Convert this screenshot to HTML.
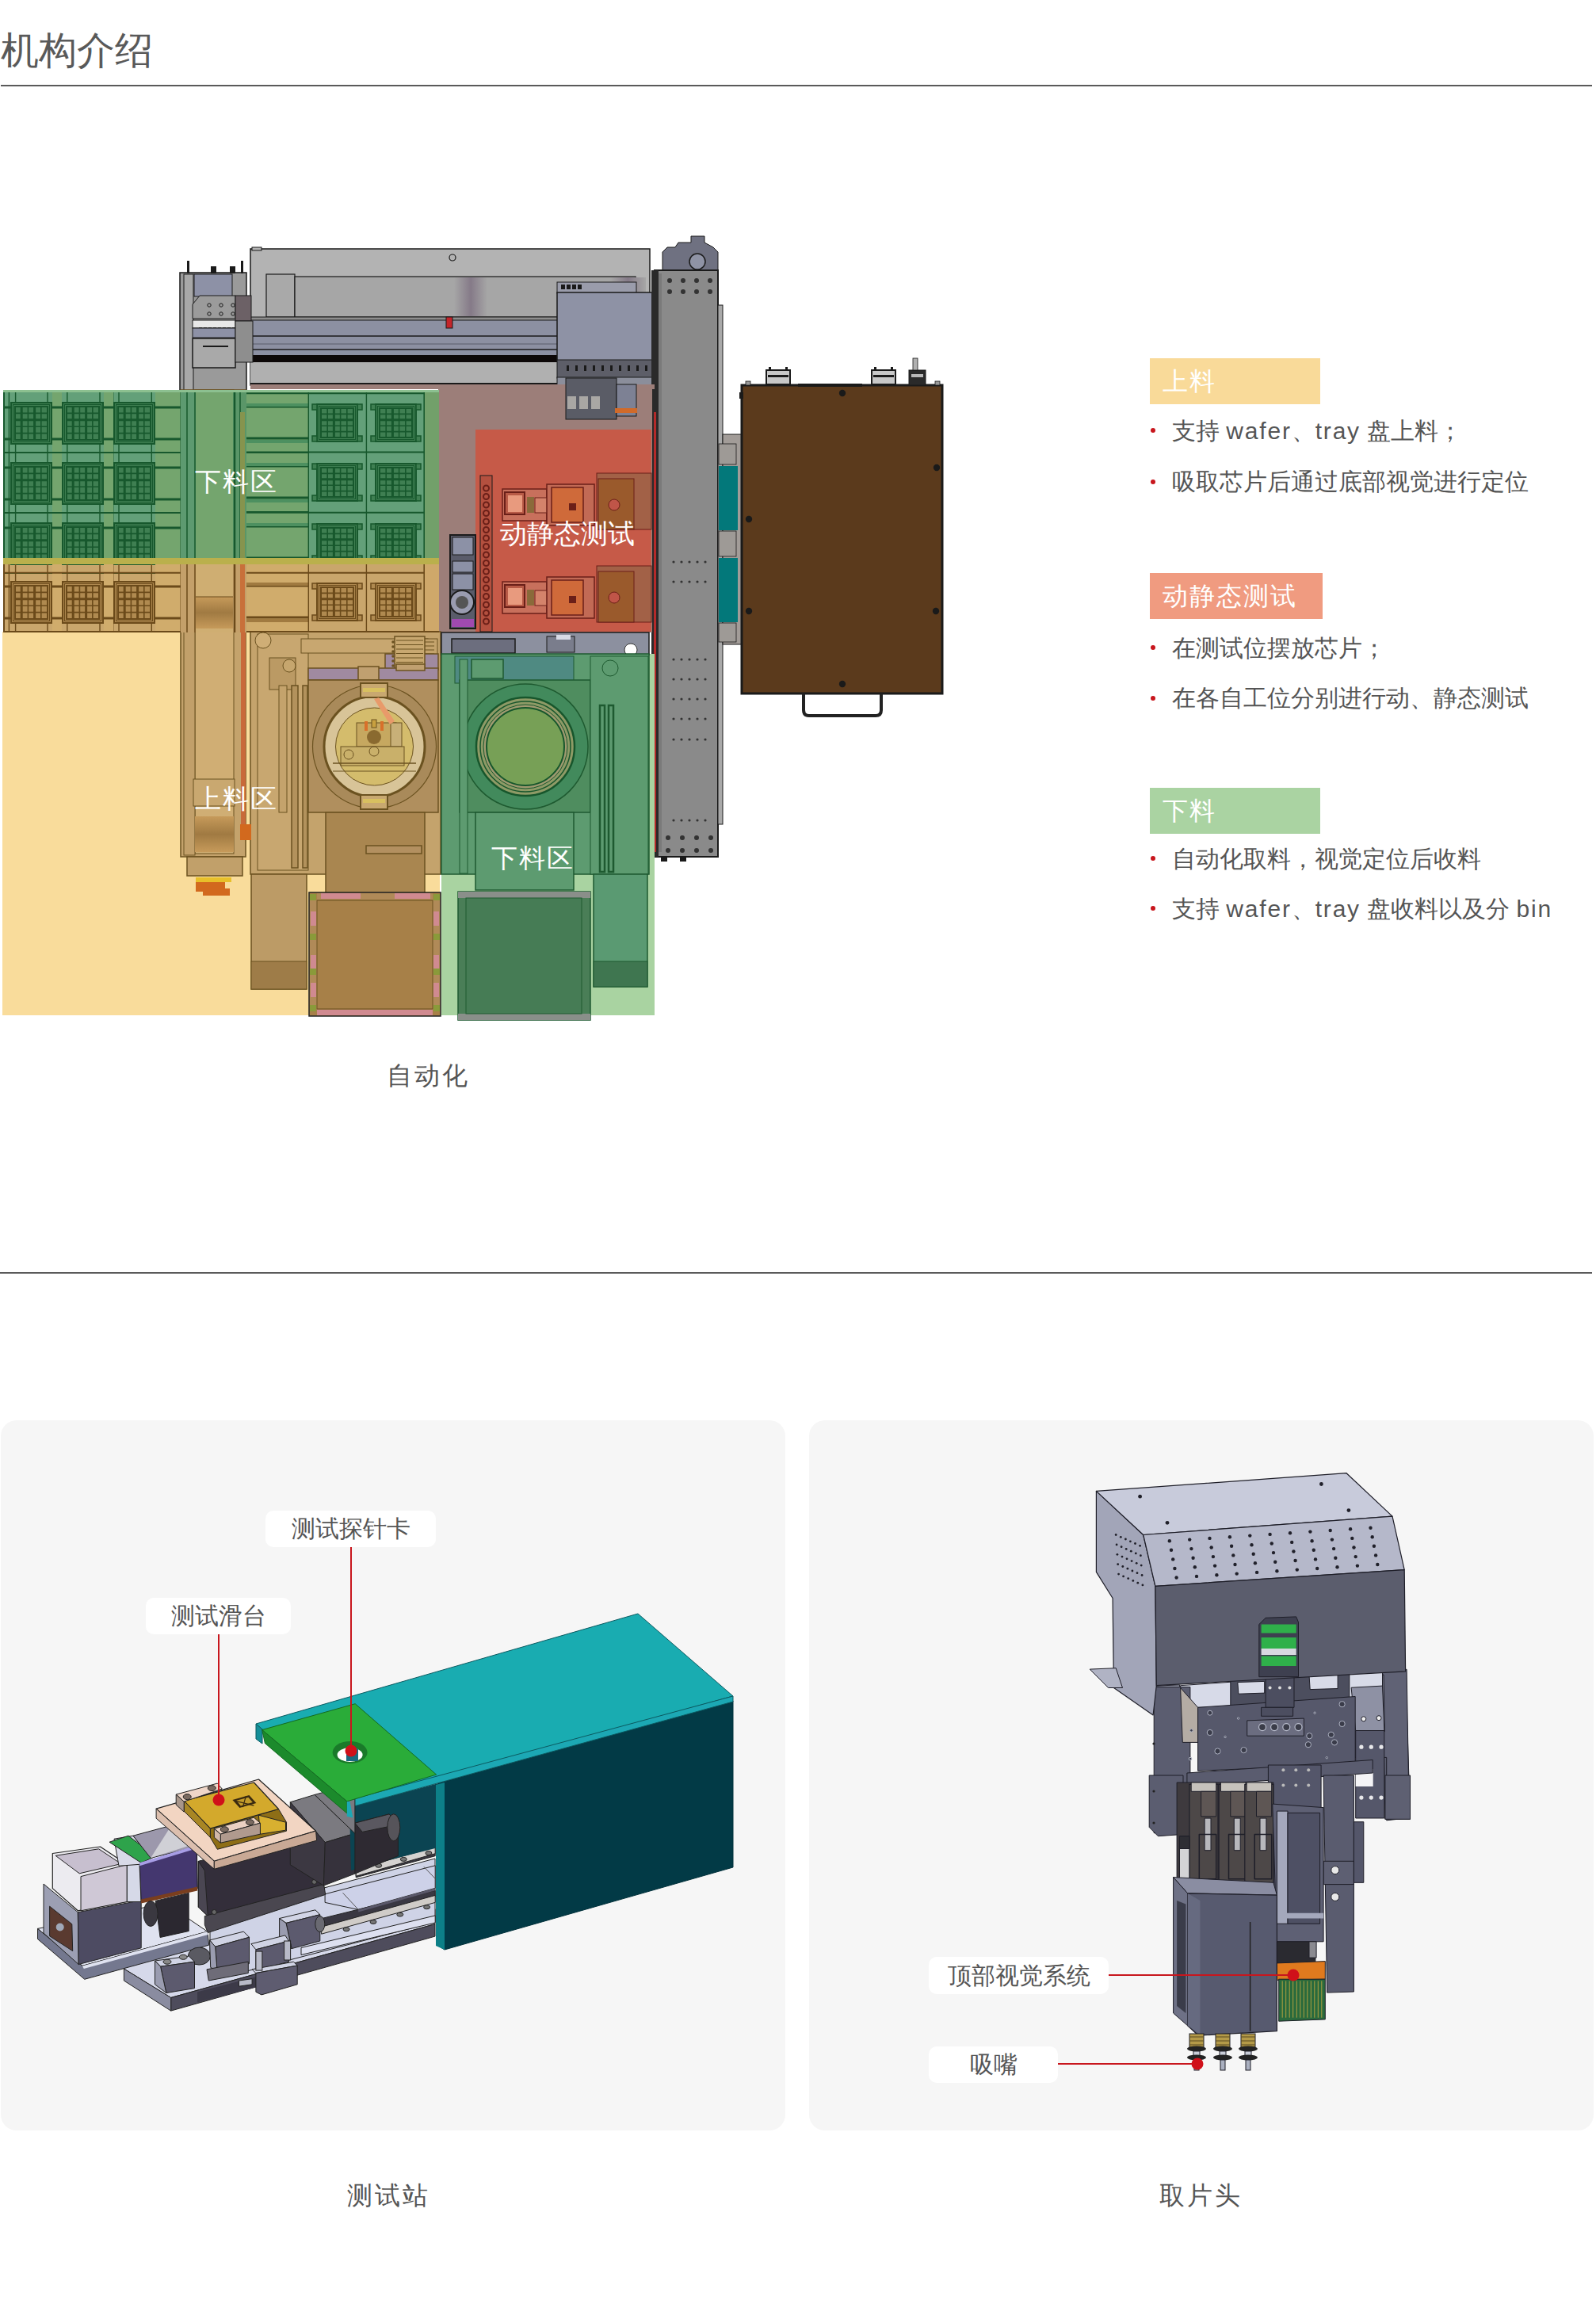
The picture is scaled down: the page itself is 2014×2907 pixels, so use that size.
<!DOCTYPE html>
<html><head><meta charset="utf-8">
<style>
html,body{margin:0;padding:0;background:#fff;}
body{width:2014px;height:2907px;position:relative;overflow:hidden;font-family:"Liberation Sans",sans-serif;color:#555;}
.a{position:absolute;white-space:nowrap;}
.hr{position:absolute;height:2px;background:#5a5a5a;}
.badge{position:absolute;left:1451px;width:215px;height:58px;color:#fff;font-size:32px;line-height:58px;padding-left:16px;box-sizing:border-box;letter-spacing:2px;}
.li{position:absolute;left:1479px;font-size:30px;line-height:40px;color:#555;}
.en{letter-spacing:1.8px;}
.dot{position:absolute;left:1452px;width:6px;height:6px;border-radius:50%;background:#c8161d;}
.card{position:absolute;top:1792px;height:896px;background:#f6f6f6;border-radius:20px;}
.lab{position:absolute;background:#fff;border-radius:10px;font-size:30px;color:#555;text-align:center;}
.cap{position:absolute;font-size:32px;color:#555;line-height:40px;letter-spacing:3px;}
svg{position:absolute;left:0;top:0;}
</style></head>
<body>
<div class="a" style="left:1px;top:34px;font-size:48px;line-height:60px;color:#595959;">机构介绍</div>
<div class="hr" style="left:1px;top:107px;width:2008px;"></div>

<!-- TOP CAD IMAGE -->
<svg id="top" width="1200" height="1300" viewBox="0 0 1200 1300">
<rect x="316" y="314" width="504" height="172" fill="#b3b3b3" stroke="#1a1a1a" stroke-width="1.5"/>
<rect x="318" y="312" width="12" height="4" fill="#b3b3b3" stroke="#1a1a1a" stroke-width="1"/>
<circle cx="571" cy="325" r="4" fill="none" stroke="#1a1a1a" stroke-width="1.2"/>
<rect x="336" y="346" width="36" height="54" fill="#a9a9a9" stroke="#1a1a1a" stroke-width="1.2"/>
<rect x="372" y="349" width="430" height="51" fill="#a6a6a6" stroke="#1a1a1a" stroke-width="1.2"/>
<defs><linearGradient id="cyl" x1="0" x2="1"><stop offset="0" stop-color="#a6a6a6"/><stop offset="0.5" stop-color="#857a88"/><stop offset="1" stop-color="#a6a6a6"/></linearGradient></defs>
<rect x="573" y="350" width="42" height="49" fill="url(#cyl)"/>
<rect x="770" y="350" width="45" height="49" fill="url(#cyl)"/>
<rect x="316" y="400" width="390" height="5" fill="#8d8d8d" stroke="#1a1a1a" stroke-width="1"/>
<rect x="316" y="404" width="390" height="46" fill="#8c90a2" stroke="#1a1a1a" stroke-width="1"/>
<line x1="316" y1="424" x2="706" y2="424" stroke="#1a1a1a" stroke-width="1.5"/>
<line x1="316" y1="434" x2="706" y2="434" stroke="#5a5c6a" stroke-width="1"/>
<line x1="316" y1="441" x2="706" y2="441" stroke="#1a1a1a" stroke-width="1.5"/>
<rect x="316" y="448" width="390" height="9" fill="#0d0808"/>
<rect x="316" y="457" width="390" height="27" fill="#b0b0b0"/>
<line x1="316" y1="484" x2="706" y2="484" stroke="#1a1a1a" stroke-width="2"/>
<rect x="563" y="400" width="8" height="14" fill="#c4242a" stroke="#1a1a1a" stroke-width="1"/>
<rect x="227" y="344" width="84" height="150" fill="#9a9a9a" stroke="#1a1a1a" stroke-width="1.5"/>
<rect x="232" y="346" width="12" height="148" fill="#a8a8a8" stroke="#1a1a1a" stroke-width="1"/>
<rect x="245" y="346" width="48" height="28" fill="#8d91a6" stroke="#1a1a1a" stroke-width="1"/>
<rect x="236" y="329" width="3" height="16" fill="#1a1a1a"/>
<rect x="304" y="329" width="3" height="16" fill="#1a1a1a"/>
<rect x="266" y="336" width="7" height="9" fill="#1a1a1a"/>
<rect x="290" y="336" width="7" height="9" fill="#1a1a1a"/>
<polygon points="243,384 252,373 297,373 297,402 243,402" fill="#9b9b9b" stroke="#1a1a1a" stroke-width="1"/>
<circle cx="264" cy="385" r="2.2" fill="none" stroke="#1a1a1a" stroke-width="1"/>
<circle cx="264" cy="396" r="2.2" fill="none" stroke="#1a1a1a" stroke-width="1"/>
<circle cx="279" cy="385" r="2.2" fill="none" stroke="#1a1a1a" stroke-width="1"/>
<circle cx="279" cy="396" r="2.2" fill="none" stroke="#1a1a1a" stroke-width="1"/>
<circle cx="294" cy="385" r="2.2" fill="none" stroke="#1a1a1a" stroke-width="1"/>
<circle cx="294" cy="396" r="2.2" fill="none" stroke="#1a1a1a" stroke-width="1"/>
<rect x="243" y="404" width="54" height="10" fill="#e8e8e8" stroke="#1a1a1a" stroke-width="1"/>
<rect x="251" y="413" width="4" height="11" fill="#2a2a2a"/>
<rect x="257" y="413" width="4" height="11" fill="#2a2a2a"/>
<rect x="263" y="413" width="4" height="11" fill="#2a2a2a"/>
<rect x="269" y="413" width="4" height="11" fill="#2a2a2a"/>
<rect x="275" y="413" width="4" height="11" fill="#2a2a2a"/>
<rect x="281" y="413" width="4" height="11" fill="#2a2a2a"/>
<rect x="287" y="413" width="4" height="11" fill="#2a2a2a"/>
<rect x="293" y="413" width="4" height="11" fill="#2a2a2a"/>
<rect x="243" y="414" width="54" height="12" fill="#8d91a6" stroke="#1a1a1a" stroke-width="1"/>
<rect x="243" y="427" width="54" height="37" fill="#a9a9a9" stroke="#1a1a1a" stroke-width="1.5"/>
<line x1="256" y1="437" x2="288" y2="437" stroke="#1a1a1a" stroke-width="2"/>
<rect x="297" y="373" width="20" height="32" fill="#6c6166" stroke="#1a1a1a" stroke-width="1"/>
<rect x="297" y="405" width="22" height="52" fill="#8e8e8e" stroke="#1a1a1a" stroke-width="1"/>
<rect x="703" y="356" width="100" height="14" fill="#9a9cab" stroke="#1a1a1a" stroke-width="1"/>
<rect x="708" y="359" width="5" height="6" fill="#1a1a1a"/>
<rect x="715" y="359" width="5" height="6" fill="#1a1a1a"/>
<rect x="722" y="359" width="5" height="6" fill="#1a1a1a"/>
<rect x="729" y="359" width="5" height="6" fill="#1a1a1a"/>
<rect x="703" y="369" width="126" height="86" fill="#8e92a5" stroke="#1a1a1a" stroke-width="1.5"/>
<rect x="703" y="454" width="126" height="23" fill="#5d5e68" stroke="#1a1a1a" stroke-width="1"/>
<rect x="715" y="461" width="3" height="7" fill="#1a1a1a"/>
<rect x="726" y="461" width="3" height="7" fill="#1a1a1a"/>
<rect x="737" y="461" width="3" height="7" fill="#1a1a1a"/>
<rect x="748" y="461" width="3" height="7" fill="#1a1a1a"/>
<rect x="759" y="461" width="3" height="7" fill="#1a1a1a"/>
<rect x="770" y="461" width="3" height="7" fill="#1a1a1a"/>
<rect x="781" y="461" width="3" height="7" fill="#1a1a1a"/>
<rect x="792" y="461" width="3" height="7" fill="#1a1a1a"/>
<rect x="803" y="461" width="3" height="7" fill="#1a1a1a"/>
<rect x="814" y="461" width="3" height="7" fill="#1a1a1a"/>
<rect x="703" y="476" width="126" height="10" fill="#8b8e9b" stroke="#1a1a1a" stroke-width="1"/>
<polygon points="836,342 836,318 842,312 852,312 856,306 872,306 872,298 889,298 889,306 900,312 906,318 906,342" fill="#6f7181" stroke="#1a1a1a" stroke-width="1"/>
<circle cx="880" cy="330" r="10" fill="#8f93a5" stroke="#1a1a1a" stroke-width="1.5"/>
<rect x="826" y="341" width="80" height="740" fill="#8a8a8a" stroke="#1a1a1a" stroke-width="2"/>
<rect x="830" y="345" width="5" height="730" fill="#7a7a7a"/>
<rect x="906" y="385" width="6" height="655" fill="#a9a9a9" stroke="#1a1a1a" stroke-width="1"/>
<rect x="822" y="341" width="9" height="740" fill="#2a2a2a"/>
<rect x="825" y="520" width="3" height="555" fill="#b42a2a"/>
<circle cx="845" cy="354" r="3" fill="#333"/>
<circle cx="862" cy="354" r="3" fill="#333"/>
<circle cx="879" cy="354" r="3" fill="#333"/>
<circle cx="896" cy="354" r="3" fill="#333"/>
<circle cx="845" cy="368" r="3" fill="#333"/>
<circle cx="862" cy="368" r="3" fill="#333"/>
<circle cx="879" cy="368" r="3" fill="#333"/>
<circle cx="896" cy="368" r="3" fill="#333"/>
<circle cx="843" cy="1057" r="3" fill="#333"/>
<circle cx="861" cy="1057" r="3" fill="#333"/>
<circle cx="879" cy="1057" r="3" fill="#333"/>
<circle cx="897" cy="1057" r="3" fill="#333"/>
<circle cx="843" cy="1073" r="3" fill="#333"/>
<circle cx="861" cy="1073" r="3" fill="#333"/>
<circle cx="879" cy="1073" r="3" fill="#333"/>
<circle cx="897" cy="1073" r="3" fill="#333"/>
<circle cx="850" cy="709" r="1.6" fill="#333"/>
<circle cx="860" cy="709" r="1.6" fill="#333"/>
<circle cx="870" cy="709" r="1.6" fill="#333"/>
<circle cx="880" cy="709" r="1.6" fill="#333"/>
<circle cx="890" cy="709" r="1.6" fill="#333"/>
<circle cx="850" cy="734" r="1.6" fill="#333"/>
<circle cx="860" cy="734" r="1.6" fill="#333"/>
<circle cx="870" cy="734" r="1.6" fill="#333"/>
<circle cx="880" cy="734" r="1.6" fill="#333"/>
<circle cx="890" cy="734" r="1.6" fill="#333"/>
<circle cx="850" cy="832" r="1.6" fill="#333"/>
<circle cx="860" cy="832" r="1.6" fill="#333"/>
<circle cx="870" cy="832" r="1.6" fill="#333"/>
<circle cx="880" cy="832" r="1.6" fill="#333"/>
<circle cx="890" cy="832" r="1.6" fill="#333"/>
<circle cx="850" cy="857" r="1.6" fill="#333"/>
<circle cx="860" cy="857" r="1.6" fill="#333"/>
<circle cx="870" cy="857" r="1.6" fill="#333"/>
<circle cx="880" cy="857" r="1.6" fill="#333"/>
<circle cx="890" cy="857" r="1.6" fill="#333"/>
<circle cx="850" cy="882" r="1.6" fill="#333"/>
<circle cx="860" cy="882" r="1.6" fill="#333"/>
<circle cx="870" cy="882" r="1.6" fill="#333"/>
<circle cx="880" cy="882" r="1.6" fill="#333"/>
<circle cx="890" cy="882" r="1.6" fill="#333"/>
<circle cx="850" cy="907" r="1.6" fill="#333"/>
<circle cx="860" cy="907" r="1.6" fill="#333"/>
<circle cx="870" cy="907" r="1.6" fill="#333"/>
<circle cx="880" cy="907" r="1.6" fill="#333"/>
<circle cx="890" cy="907" r="1.6" fill="#333"/>
<circle cx="850" cy="933" r="1.6" fill="#333"/>
<circle cx="860" cy="933" r="1.6" fill="#333"/>
<circle cx="870" cy="933" r="1.6" fill="#333"/>
<circle cx="880" cy="933" r="1.6" fill="#333"/>
<circle cx="890" cy="933" r="1.6" fill="#333"/>
<circle cx="850" cy="1035" r="1.6" fill="#333"/>
<circle cx="860" cy="1035" r="1.6" fill="#333"/>
<circle cx="870" cy="1035" r="1.6" fill="#333"/>
<circle cx="880" cy="1035" r="1.6" fill="#333"/>
<circle cx="890" cy="1035" r="1.6" fill="#333"/>
<rect x="834" y="1081" width="8" height="6" fill="#1a1a1a"/>
<rect x="858" y="1081" width="8" height="6" fill="#1a1a1a"/>
<rect x="912" y="548" width="24" height="265" fill="#a29c98" stroke="#1a1a1a" stroke-width="1"/>
<rect x="907" y="588" width="24" height="81" fill="#03787a"/>
<rect x="907" y="704" width="24" height="81" fill="#03787a"/>
<rect x="907" y="560" width="22" height="26" fill="#9e9a96" stroke="#1a1a1a" stroke-width="0.8"/>
<rect x="907" y="670" width="22" height="32" fill="#9e9a96" stroke="#1a1a1a" stroke-width="0.8"/>
<rect x="907" y="786" width="22" height="24" fill="#9e9a96" stroke="#1a1a1a" stroke-width="0.8"/>
<rect x="936" y="486" width="253" height="389" fill="#5b3a1c" stroke="#1a1a1a" stroke-width="3"/>
<rect x="970" y="463" width="3" height="23" fill="#1a1a1a"/>
<rect x="991" y="463" width="3" height="23" fill="#1a1a1a"/>
<rect x="967" y="467" width="30" height="18" fill="#c8c8c8" stroke="#1a1a1a" stroke-width="2"/>
<rect x="969" y="473" width="26" height="3" fill="#1a1a1a"/>
<rect x="1103" y="463" width="3" height="23" fill="#1a1a1a"/>
<rect x="1124" y="463" width="3" height="23" fill="#1a1a1a"/>
<rect x="1100" y="467" width="30" height="18" fill="#c8c8c8" stroke="#1a1a1a" stroke-width="2"/>
<rect x="1102" y="473" width="26" height="3" fill="#1a1a1a"/>
<rect x="1147" y="467" width="21" height="19" fill="#2a2a2a" stroke="#1a1a1a" stroke-width="1"/>
<rect x="1150" y="472" width="15" height="4" fill="#b8b8b8"/>
<rect x="1152" y="452" width="6" height="15" fill="#b0b0b0" stroke="#1a1a1a" stroke-width="0.8"/>
<rect x="1007" y="484" width="81" height="4" fill="#1a1a1a"/>
<rect x="941" y="481" width="6" height="5" fill="#999" stroke="#1a1a1a" stroke-width="0.8"/>
<rect x="1180" y="481" width="6" height="5" fill="#999" stroke="#1a1a1a" stroke-width="0.8"/>
<rect x="933" y="495" width="5" height="8" fill="#1a1a1a"/>
<circle cx="1063" cy="496" r="4.2" fill="#1a1a1a"/>
<circle cx="945" cy="655" r="4.2" fill="#1a1a1a"/>
<circle cx="945" cy="771" r="4.2" fill="#1a1a1a"/>
<circle cx="1182" cy="590" r="4.2" fill="#1a1a1a"/>
<circle cx="1181" cy="771" r="4.2" fill="#1a1a1a"/>
<circle cx="1063" cy="863" r="4.2" fill="#1a1a1a"/>
<path d="M1014,875 V896 Q1014,903 1021,903 H1105 Q1112,903 1112,896 V875" fill="none" stroke="#222" stroke-width="4"/>
<rect x="316" y="485" width="510" height="6" fill="#9c7e79"/>
<rect x="553" y="485" width="270" height="313" fill="#9c7e79"/>
<rect x="714" y="477" width="64" height="52" fill="#5a5c66" stroke="#1a1a1a" stroke-width="1"/>
<rect x="716" y="500" width="11" height="16" fill="#a9a7a4"/>
<rect x="731" y="500" width="11" height="16" fill="#a9a7a4"/>
<rect x="746" y="500" width="11" height="16" fill="#a9a7a4"/>
<rect x="778" y="485" width="25" height="40" fill="#7d8194" stroke="#1a1a1a" stroke-width="1"/>
<rect x="776" y="515" width="28" height="6" fill="#d06a2a"/>
<rect x="600" y="542" width="222" height="255" fill="#c65a48"/>
<rect x="606" y="600" width="15" height="197" fill="#b4503f" stroke="#1a1a1a" stroke-width="1"/>
<circle cx="613.5" cy="616.0" r="3.5" fill="none" stroke="#6b1f18" stroke-width="2"/>
<circle cx="613.5" cy="626.5" r="3.5" fill="none" stroke="#6b1f18" stroke-width="2"/>
<circle cx="613.5" cy="637.0" r="3.5" fill="none" stroke="#6b1f18" stroke-width="2"/>
<circle cx="613.5" cy="647.5" r="3.5" fill="none" stroke="#6b1f18" stroke-width="2"/>
<circle cx="613.5" cy="658.0" r="3.5" fill="none" stroke="#6b1f18" stroke-width="2"/>
<circle cx="613.5" cy="668.5" r="3.5" fill="none" stroke="#6b1f18" stroke-width="2"/>
<circle cx="613.5" cy="679.0" r="3.5" fill="none" stroke="#6b1f18" stroke-width="2"/>
<circle cx="613.5" cy="689.5" r="3.5" fill="none" stroke="#6b1f18" stroke-width="2"/>
<circle cx="613.5" cy="700.0" r="3.5" fill="none" stroke="#6b1f18" stroke-width="2"/>
<circle cx="613.5" cy="710.5" r="3.5" fill="none" stroke="#6b1f18" stroke-width="2"/>
<circle cx="613.5" cy="721.0" r="3.5" fill="none" stroke="#6b1f18" stroke-width="2"/>
<circle cx="613.5" cy="731.5" r="3.5" fill="none" stroke="#6b1f18" stroke-width="2"/>
<circle cx="613.5" cy="742.0" r="3.5" fill="none" stroke="#6b1f18" stroke-width="2"/>
<circle cx="613.5" cy="752.5" r="3.5" fill="none" stroke="#6b1f18" stroke-width="2"/>
<circle cx="613.5" cy="763.0" r="3.5" fill="none" stroke="#6b1f18" stroke-width="2"/>
<circle cx="613.5" cy="773.5" r="3.5" fill="none" stroke="#6b1f18" stroke-width="2"/>
<circle cx="613.5" cy="784.0" r="3.5" fill="none" stroke="#6b1f18" stroke-width="2"/>
<rect x="634" y="617" width="56" height="40" fill="#c8705c" stroke="#6b1f18" stroke-width="1.5"/>
<rect x="637" y="621" width="25" height="28" fill="#b85a46" stroke="#6b1f18" stroke-width="2"/>
<rect x="641" y="625" width="18" height="21" fill="#e89a7e"/>
<rect x="665" y="627" width="9" height="20" fill="#8a6a3a"/>
<rect x="675" y="628" width="16" height="19" fill="#d4836b" stroke="#6b1f18" stroke-width="1"/>
<rect x="690" y="611" width="60" height="52" fill="#c26a55" stroke="#6b1f18" stroke-width="1.5"/>
<rect x="696" y="615" width="40" height="44" fill="#cf6a3a" stroke="#6b1f18" stroke-width="1.5"/>
<rect x="718" y="635" width="9" height="9" fill="#6b1f18"/>
<rect x="753" y="597" width="69" height="71" fill="#a26147" stroke="#6b1f18" stroke-width="1"/>
<rect x="755" y="604" width="45" height="64" fill="#9a5a2c" stroke="#6b1f18" stroke-width="1"/>
<circle cx="775" cy="637" r="7" fill="#c05548" stroke="#6b1f18" stroke-width="1"/>
<rect x="634" y="734" width="56" height="40" fill="#c8705c" stroke="#6b1f18" stroke-width="1.5"/>
<rect x="637" y="738" width="25" height="28" fill="#b85a46" stroke="#6b1f18" stroke-width="2"/>
<rect x="641" y="742" width="18" height="21" fill="#e89a7e"/>
<rect x="665" y="744" width="9" height="20" fill="#8a6a3a"/>
<rect x="675" y="745" width="16" height="19" fill="#d4836b" stroke="#6b1f18" stroke-width="1"/>
<rect x="690" y="728" width="60" height="52" fill="#c26a55" stroke="#6b1f18" stroke-width="1.5"/>
<rect x="696" y="732" width="40" height="44" fill="#cf6a3a" stroke="#6b1f18" stroke-width="1.5"/>
<rect x="718" y="752" width="9" height="9" fill="#6b1f18"/>
<rect x="753" y="714" width="69" height="71" fill="#a26147" stroke="#6b1f18" stroke-width="1"/>
<rect x="755" y="721" width="45" height="64" fill="#9a5a2c" stroke="#6b1f18" stroke-width="1"/>
<circle cx="775" cy="754" r="7" fill="#c05548" stroke="#6b1f18" stroke-width="1"/>
<rect x="568" y="675" width="32" height="118" fill="#5a5c6a" stroke="#1a1a1a" stroke-width="2"/>
<rect x="571" y="678" width="26" height="22" fill="#8c91a6" stroke="#1a1a1a" stroke-width="1"/>
<rect x="571" y="708" width="26" height="14" fill="#8c91a6" stroke="#1a1a1a" stroke-width="1"/>
<rect x="571" y="724" width="26" height="20" fill="#8c91a6" stroke="#1a1a1a" stroke-width="1"/>
<circle cx="583" cy="760" r="15" fill="#9a9cb0" stroke="#1a1a1a" stroke-width="2"/>
<circle cx="583" cy="760" r="8" fill="#555"/>
<rect x="570" y="781" width="28" height="10" fill="#a04ab0"/>
<rect x="3" y="797" width="552" height="484" fill="#f9dc9b"/>
<rect x="316" y="797" width="240" height="306" fill="#c4a36c" stroke="#6b5220" stroke-width="1.5"/>
<rect x="325" y="800" width="64" height="298" fill="#c8a770" stroke="#6b5220" stroke-width="1"/>
<circle cx="332" cy="808" r="10" fill="#cfae76" stroke="#6b5220" stroke-width="1"/>
<rect x="340" y="830" width="33" height="40" fill="#bb9a64" stroke="#6b5220" stroke-width="1"/>
<circle cx="365" cy="840" r="8" fill="#c6a66e" stroke="#6b5220" stroke-width="1"/>
<rect x="352" y="865" width="10" height="160" fill="#c4a36c" stroke="#6b5220" stroke-width="1"/>
<rect x="368" y="865" width="8" height="230" fill="#b3925c" stroke="#6b5220" stroke-width="1.5"/>
<rect x="382" y="865" width="6" height="230" fill="#b3925c" stroke="#6b5220" stroke-width="1.5"/>
<rect x="380" y="806" width="160" height="18" fill="#c8a770" stroke="#6b5220" stroke-width="1"/>
<rect x="500" y="806" width="52" height="30" fill="#c4a36c" stroke="#6b5220" stroke-width="1"/>
<line x1="502" y1="810" x2="548" y2="810" stroke="#6b5220" stroke-width="1"/>
<line x1="502" y1="815" x2="548" y2="815" stroke="#6b5220" stroke-width="1"/>
<line x1="502" y1="820" x2="548" y2="820" stroke="#6b5220" stroke-width="1"/>
<line x1="502" y1="825" x2="548" y2="825" stroke="#6b5220" stroke-width="1"/>
<line x1="502" y1="830" x2="548" y2="830" stroke="#6b5220" stroke-width="1"/>
<rect x="486" y="825" width="67" height="20" fill="#a08aa0" stroke="#6b5220" stroke-width="1.5"/>
<rect x="498" y="803" width="38" height="44" fill="#c8a870" stroke="#6b5220" stroke-width="1.5"/>
<line x1="500" y1="808.0" x2="534" y2="808.0" stroke="#6b5220" stroke-width="1.2"/>
<line x1="500" y1="813.5" x2="534" y2="813.5" stroke="#6b5220" stroke-width="1.2"/>
<line x1="500" y1="819.0" x2="534" y2="819.0" stroke="#6b5220" stroke-width="1.2"/>
<line x1="500" y1="824.5" x2="534" y2="824.5" stroke="#6b5220" stroke-width="1.2"/>
<line x1="500" y1="830.0" x2="534" y2="830.0" stroke="#6b5220" stroke-width="1.2"/>
<line x1="500" y1="835.5" x2="534" y2="835.5" stroke="#6b5220" stroke-width="1.2"/>
<line x1="500" y1="841.0" x2="534" y2="841.0" stroke="#6b5220" stroke-width="1.2"/>
<circle cx="496" cy="810" r="1.8" fill="#6b5220"/>
<circle cx="496" cy="816" r="1.8" fill="#6b5220"/>
<circle cx="496" cy="822" r="1.8" fill="#6b5220"/>
<circle cx="496" cy="828" r="1.8" fill="#6b5220"/>
<circle cx="496" cy="834" r="1.8" fill="#6b5220"/>
<circle cx="496" cy="840" r="1.8" fill="#6b5220"/>
<rect x="389" y="843" width="164" height="15" fill="#a08aa0" stroke="#6b5220" stroke-width="1.5"/>
<rect x="452" y="841" width="26" height="17" fill="#c0a070" stroke="#6b5220" stroke-width="1.5"/>
<rect x="500" y="838" width="36" height="8" fill="#c0a070" stroke="#6b5220" stroke-width="1.5"/>
<rect x="389" y="858" width="164" height="167" fill="#b08f5e" stroke="#6b5220" stroke-width="1.5"/>
<circle cx="472.5" cy="942" r="78" fill="#a98a5a" stroke="#6b5220" stroke-width="1.2"/>
<circle cx="472.5" cy="942" r="63.5" fill="#d8c498" stroke="#6b5220" stroke-width="3"/>
<circle cx="472.5" cy="942" r="49" fill="#d4bc6c" stroke="#6b5220" stroke-width="1"/>
<rect x="455" y="862" width="34" height="18" fill="#c8a870" stroke="#6b5220" stroke-width="2"/>
<rect x="458" y="868" width="28" height="5" fill="#d8c060"/>
<rect x="455" y="1003" width="34" height="18" fill="#c8a870" stroke="#6b5220" stroke-width="2"/>
<rect x="458" y="1008" width="28" height="5" fill="#d8c060"/>
<rect x="450" y="912" width="50" height="30" fill="#c6a860" stroke="#6b5220" stroke-width="1"/>
<circle cx="472" cy="930" r="9" fill="#8a6a30"/>
<rect x="460" y="910" width="4" height="12" fill="#d8702a"/>
<rect x="480" y="910" width="4" height="12" fill="#d8702a"/>
<rect x="469" y="908" width="6" height="10" fill="#c8a040" stroke="#6b5220" stroke-width="1"/>
<rect x="493" y="912" width="14" height="30" fill="#c8b078" stroke="#6b5220" stroke-width="1"/>
<rect x="430" y="942" width="80" height="24" fill="#c9b06a" stroke="#6b5220" stroke-width="1"/>
<circle cx="440" cy="952" r="6" fill="none" stroke="#6b5220" stroke-width="1"/>
<circle cx="472" cy="948" r="6" fill="none" stroke="#6b5220" stroke-width="1"/>
<line x1="420" y1="963" x2="525" y2="963" stroke="#6b5220" stroke-width="1.5"/>
<line x1="420" y1="973" x2="525" y2="973" stroke="#6b5220" stroke-width="1.2"/>
<polygon points="472,882 478,880 498,910 492,914" fill="#e89a6a"/>
<rect x="411" y="1025" width="125" height="105" fill="#a98650" stroke="#6b5220" stroke-width="1.5"/>
<rect x="462" y="1067" width="70" height="10" fill="#b39060" stroke="#6b5220" stroke-width="1.5"/>
<rect x="317" y="1103" width="70" height="145" fill="#bc9b66" stroke="#6b5220" stroke-width="1.5"/>
<rect x="317" y="1213" width="70" height="35" fill="#9e7c48" stroke="#6b5220" stroke-width="1"/>
<rect x="390" y="1126" width="166" height="156" fill="#a78048" stroke="#222" stroke-width="1.5"/>
<rect x="400" y="1127" width="146" height="8" fill="#b08a58"/>
<rect x="405" y="1127" width="50" height="7" fill="#d08a90"/>
<rect x="498" y="1127" width="45" height="7" fill="#d08a90"/>
<rect x="400" y="1274" width="146" height="7" fill="#d08a90"/>
<rect x="391" y="1135" width="9" height="139" fill="#b08a58"/>
<rect x="546" y="1135" width="9" height="139" fill="#b08a58"/>
<rect x="392" y="1150" width="7" height="18" fill="#d08a90"/>
<rect x="547" y="1150" width="7" height="18" fill="#d08a90"/>
<rect x="392" y="1205" width="7" height="18" fill="#d08a90"/>
<rect x="547" y="1205" width="7" height="18" fill="#d08a90"/>
<rect x="392" y="1240" width="7" height="18" fill="#d08a90"/>
<rect x="547" y="1240" width="7" height="18" fill="#d08a90"/>
<rect x="391" y="1128" width="8" height="8" fill="#8a9a3a"/>
<rect x="547" y="1128" width="8" height="8" fill="#8a9a3a"/>
<rect x="391" y="1178" width="8" height="8" fill="#8a9a3a"/>
<rect x="547" y="1178" width="8" height="8" fill="#8a9a3a"/>
<rect x="391" y="1222" width="8" height="8" fill="#8a9a3a"/>
<rect x="547" y="1222" width="8" height="8" fill="#8a9a3a"/>
<rect x="391" y="1268" width="8" height="8" fill="#8a9a3a"/>
<rect x="547" y="1268" width="8" height="8" fill="#8a9a3a"/>
<rect x="400" y="1136" width="146" height="137" fill="#a78048" stroke="#6b5220" stroke-width="1"/>
<rect x="228" y="492" width="82" height="589" fill="#c4a36c" stroke="#6b5220" stroke-width="1.5"/>
<rect x="246" y="492" width="49" height="585" fill="#d0ae74" stroke="#6b5220" stroke-width="1"/>
<rect x="232" y="499" width="14" height="580" fill="#c2a06a" stroke="#6b5220" stroke-width="1"/>
<rect x="244" y="983" width="52" height="34" fill="#c9a870" stroke="#6b5220" stroke-width="1"/>
<defs><linearGradient id="armg" x1="0" x2="0" y1="0" y2="1"><stop offset="0" stop-color="#c69a5a"/><stop offset="0.5" stop-color="#a07a42"/><stop offset="1" stop-color="#c69a5a"/></linearGradient></defs>
<rect x="246" y="1030" width="49" height="45" fill="url(#armg)"/>
<rect x="236" y="1081" width="70" height="24" fill="#c1a06a" stroke="#6b5220" stroke-width="1.5"/>
<rect x="247" y="1107" width="45" height="6" fill="#e8c02a"/>
<rect x="247" y="1113" width="37" height="12" fill="#d2691e"/>
<rect x="256" y="1121" width="34" height="9" fill="#d2691e"/>
<rect x="304" y="520" width="6" height="538" fill="#c86a3a"/>
<rect x="303" y="1040" width="14" height="20" fill="#d2691e"/>
<rect x="4" y="492" width="550" height="212" fill="#63a079"/>
<rect x="4" y="712" width="550" height="86" fill="#c9a66c"/>
<line x1="11.4" y1="492" x2="11.4" y2="704" stroke="#17582d" stroke-width="1.4"/>
<line x1="19.6" y1="492" x2="19.6" y2="704" stroke="#17582d" stroke-width="1.4"/>
<line x1="60" y1="492" x2="60" y2="704" stroke="#17582d" stroke-width="1.4"/>
<line x1="68.2" y1="492" x2="68.2" y2="704" stroke="#17582d" stroke-width="1.4"/>
<line x1="76.5" y1="492" x2="76.5" y2="704" stroke="#17582d" stroke-width="1.4"/>
<line x1="84.8" y1="492" x2="84.8" y2="704" stroke="#17582d" stroke-width="1.4"/>
<line x1="126" y1="492" x2="126" y2="704" stroke="#17582d" stroke-width="1.4"/>
<line x1="133.4" y1="492" x2="133.4" y2="704" stroke="#17582d" stroke-width="1.4"/>
<line x1="142.7" y1="492" x2="142.7" y2="704" stroke="#17582d" stroke-width="1.4"/>
<line x1="150" y1="492" x2="150" y2="704" stroke="#17582d" stroke-width="1.4"/>
<line x1="191.3" y1="492" x2="191.3" y2="704" stroke="#17582d" stroke-width="1.4"/>
<line x1="198.5" y1="492" x2="198.5" y2="704" stroke="#17582d" stroke-width="1.4"/>
<rect x="4" y="492" width="2" height="212" fill="#17582d"/>
<rect x="66" y="492" width="12" height="212" fill="#74a56e"/>
<rect x="131" y="492" width="12" height="212" fill="#74a56e"/>
<rect x="196" y="492" width="32" height="212" fill="#74a56e"/>
<line x1="4" y1="514" x2="229" y2="514" stroke="#17582d" stroke-width="3"/>
<line x1="4" y1="554" x2="229" y2="554" stroke="#17582d" stroke-width="3"/>
<line x1="4" y1="571" x2="229" y2="571" stroke="#17582d" stroke-width="2"/>
<rect x="14" y="508" width="51" height="52" fill="#3f7f52" stroke="#17582d" stroke-width="2"/>
<rect x="16.5" y="510.5" width="46" height="47" fill="none" stroke="#17582d" stroke-width="1"/>
<rect x="19" y="513" width="41" height="42" fill="#3f7f52" stroke="#17582d" stroke-width="2"/>
<line x1="27.2" y1="513" x2="27.2" y2="555" stroke="#17582d" stroke-width="3"/>
<line x1="19" y1="521.4" x2="60" y2="521.4" stroke="#17582d" stroke-width="1.6"/>
<line x1="35.4" y1="513" x2="35.4" y2="555" stroke="#17582d" stroke-width="1.6"/>
<line x1="19" y1="529.8" x2="60" y2="529.8" stroke="#17582d" stroke-width="3"/>
<line x1="43.599999999999994" y1="513" x2="43.599999999999994" y2="555" stroke="#17582d" stroke-width="3"/>
<line x1="19" y1="538.2" x2="60" y2="538.2" stroke="#17582d" stroke-width="1.6"/>
<line x1="51.8" y1="513" x2="51.8" y2="555" stroke="#17582d" stroke-width="1.6"/>
<line x1="19" y1="546.6" x2="60" y2="546.6" stroke="#17582d" stroke-width="1.6"/>
<rect x="79" y="508" width="51" height="52" fill="#3f7f52" stroke="#17582d" stroke-width="2"/>
<rect x="81.5" y="510.5" width="46" height="47" fill="none" stroke="#17582d" stroke-width="1"/>
<rect x="84" y="513" width="41" height="42" fill="#3f7f52" stroke="#17582d" stroke-width="2"/>
<line x1="92.2" y1="513" x2="92.2" y2="555" stroke="#17582d" stroke-width="3"/>
<line x1="84" y1="521.4" x2="125" y2="521.4" stroke="#17582d" stroke-width="1.6"/>
<line x1="100.4" y1="513" x2="100.4" y2="555" stroke="#17582d" stroke-width="1.6"/>
<line x1="84" y1="529.8" x2="125" y2="529.8" stroke="#17582d" stroke-width="3"/>
<line x1="108.6" y1="513" x2="108.6" y2="555" stroke="#17582d" stroke-width="3"/>
<line x1="84" y1="538.2" x2="125" y2="538.2" stroke="#17582d" stroke-width="1.6"/>
<line x1="116.8" y1="513" x2="116.8" y2="555" stroke="#17582d" stroke-width="1.6"/>
<line x1="84" y1="546.6" x2="125" y2="546.6" stroke="#17582d" stroke-width="1.6"/>
<rect x="144" y="508" width="51" height="52" fill="#3f7f52" stroke="#17582d" stroke-width="2"/>
<rect x="146.5" y="510.5" width="46" height="47" fill="none" stroke="#17582d" stroke-width="1"/>
<rect x="149" y="513" width="41" height="42" fill="#3f7f52" stroke="#17582d" stroke-width="2"/>
<line x1="157.2" y1="513" x2="157.2" y2="555" stroke="#17582d" stroke-width="3"/>
<line x1="149" y1="521.4" x2="190" y2="521.4" stroke="#17582d" stroke-width="1.6"/>
<line x1="165.4" y1="513" x2="165.4" y2="555" stroke="#17582d" stroke-width="1.6"/>
<line x1="149" y1="529.8" x2="190" y2="529.8" stroke="#17582d" stroke-width="3"/>
<line x1="173.6" y1="513" x2="173.6" y2="555" stroke="#17582d" stroke-width="3"/>
<line x1="149" y1="538.2" x2="190" y2="538.2" stroke="#17582d" stroke-width="1.6"/>
<line x1="181.8" y1="513" x2="181.8" y2="555" stroke="#17582d" stroke-width="1.6"/>
<line x1="149" y1="546.6" x2="190" y2="546.6" stroke="#17582d" stroke-width="1.6"/>
<line x1="4" y1="590" x2="229" y2="590" stroke="#17582d" stroke-width="3"/>
<line x1="4" y1="630" x2="229" y2="630" stroke="#17582d" stroke-width="3"/>
<line x1="4" y1="647" x2="229" y2="647" stroke="#17582d" stroke-width="2"/>
<rect x="14" y="584" width="51" height="52" fill="#3f7f52" stroke="#17582d" stroke-width="2"/>
<rect x="16.5" y="586.5" width="46" height="47" fill="none" stroke="#17582d" stroke-width="1"/>
<rect x="19" y="589" width="41" height="42" fill="#3f7f52" stroke="#17582d" stroke-width="2"/>
<line x1="27.2" y1="589" x2="27.2" y2="631" stroke="#17582d" stroke-width="3"/>
<line x1="19" y1="597.4" x2="60" y2="597.4" stroke="#17582d" stroke-width="1.6"/>
<line x1="35.4" y1="589" x2="35.4" y2="631" stroke="#17582d" stroke-width="1.6"/>
<line x1="19" y1="605.8" x2="60" y2="605.8" stroke="#17582d" stroke-width="3"/>
<line x1="43.599999999999994" y1="589" x2="43.599999999999994" y2="631" stroke="#17582d" stroke-width="3"/>
<line x1="19" y1="614.2" x2="60" y2="614.2" stroke="#17582d" stroke-width="1.6"/>
<line x1="51.8" y1="589" x2="51.8" y2="631" stroke="#17582d" stroke-width="1.6"/>
<line x1="19" y1="622.6" x2="60" y2="622.6" stroke="#17582d" stroke-width="1.6"/>
<rect x="79" y="584" width="51" height="52" fill="#3f7f52" stroke="#17582d" stroke-width="2"/>
<rect x="81.5" y="586.5" width="46" height="47" fill="none" stroke="#17582d" stroke-width="1"/>
<rect x="84" y="589" width="41" height="42" fill="#3f7f52" stroke="#17582d" stroke-width="2"/>
<line x1="92.2" y1="589" x2="92.2" y2="631" stroke="#17582d" stroke-width="3"/>
<line x1="84" y1="597.4" x2="125" y2="597.4" stroke="#17582d" stroke-width="1.6"/>
<line x1="100.4" y1="589" x2="100.4" y2="631" stroke="#17582d" stroke-width="1.6"/>
<line x1="84" y1="605.8" x2="125" y2="605.8" stroke="#17582d" stroke-width="3"/>
<line x1="108.6" y1="589" x2="108.6" y2="631" stroke="#17582d" stroke-width="3"/>
<line x1="84" y1="614.2" x2="125" y2="614.2" stroke="#17582d" stroke-width="1.6"/>
<line x1="116.8" y1="589" x2="116.8" y2="631" stroke="#17582d" stroke-width="1.6"/>
<line x1="84" y1="622.6" x2="125" y2="622.6" stroke="#17582d" stroke-width="1.6"/>
<rect x="144" y="584" width="51" height="52" fill="#3f7f52" stroke="#17582d" stroke-width="2"/>
<rect x="146.5" y="586.5" width="46" height="47" fill="none" stroke="#17582d" stroke-width="1"/>
<rect x="149" y="589" width="41" height="42" fill="#3f7f52" stroke="#17582d" stroke-width="2"/>
<line x1="157.2" y1="589" x2="157.2" y2="631" stroke="#17582d" stroke-width="3"/>
<line x1="149" y1="597.4" x2="190" y2="597.4" stroke="#17582d" stroke-width="1.6"/>
<line x1="165.4" y1="589" x2="165.4" y2="631" stroke="#17582d" stroke-width="1.6"/>
<line x1="149" y1="605.8" x2="190" y2="605.8" stroke="#17582d" stroke-width="3"/>
<line x1="173.6" y1="589" x2="173.6" y2="631" stroke="#17582d" stroke-width="3"/>
<line x1="149" y1="614.2" x2="190" y2="614.2" stroke="#17582d" stroke-width="1.6"/>
<line x1="181.8" y1="589" x2="181.8" y2="631" stroke="#17582d" stroke-width="1.6"/>
<line x1="149" y1="622.6" x2="190" y2="622.6" stroke="#17582d" stroke-width="1.6"/>
<line x1="4" y1="666" x2="229" y2="666" stroke="#17582d" stroke-width="3"/>
<line x1="4" y1="706" x2="229" y2="706" stroke="#17582d" stroke-width="3"/>
<line x1="4" y1="723" x2="229" y2="723" stroke="#17582d" stroke-width="2"/>
<rect x="14" y="660" width="51" height="52" fill="#3f7f52" stroke="#17582d" stroke-width="2"/>
<rect x="16.5" y="662.5" width="46" height="47" fill="none" stroke="#17582d" stroke-width="1"/>
<rect x="19" y="665" width="41" height="42" fill="#3f7f52" stroke="#17582d" stroke-width="2"/>
<line x1="27.2" y1="665" x2="27.2" y2="707" stroke="#17582d" stroke-width="3"/>
<line x1="19" y1="673.4" x2="60" y2="673.4" stroke="#17582d" stroke-width="1.6"/>
<line x1="35.4" y1="665" x2="35.4" y2="707" stroke="#17582d" stroke-width="1.6"/>
<line x1="19" y1="681.8" x2="60" y2="681.8" stroke="#17582d" stroke-width="3"/>
<line x1="43.599999999999994" y1="665" x2="43.599999999999994" y2="707" stroke="#17582d" stroke-width="3"/>
<line x1="19" y1="690.2" x2="60" y2="690.2" stroke="#17582d" stroke-width="1.6"/>
<line x1="51.8" y1="665" x2="51.8" y2="707" stroke="#17582d" stroke-width="1.6"/>
<line x1="19" y1="698.6" x2="60" y2="698.6" stroke="#17582d" stroke-width="1.6"/>
<rect x="79" y="660" width="51" height="52" fill="#3f7f52" stroke="#17582d" stroke-width="2"/>
<rect x="81.5" y="662.5" width="46" height="47" fill="none" stroke="#17582d" stroke-width="1"/>
<rect x="84" y="665" width="41" height="42" fill="#3f7f52" stroke="#17582d" stroke-width="2"/>
<line x1="92.2" y1="665" x2="92.2" y2="707" stroke="#17582d" stroke-width="3"/>
<line x1="84" y1="673.4" x2="125" y2="673.4" stroke="#17582d" stroke-width="1.6"/>
<line x1="100.4" y1="665" x2="100.4" y2="707" stroke="#17582d" stroke-width="1.6"/>
<line x1="84" y1="681.8" x2="125" y2="681.8" stroke="#17582d" stroke-width="3"/>
<line x1="108.6" y1="665" x2="108.6" y2="707" stroke="#17582d" stroke-width="3"/>
<line x1="84" y1="690.2" x2="125" y2="690.2" stroke="#17582d" stroke-width="1.6"/>
<line x1="116.8" y1="665" x2="116.8" y2="707" stroke="#17582d" stroke-width="1.6"/>
<line x1="84" y1="698.6" x2="125" y2="698.6" stroke="#17582d" stroke-width="1.6"/>
<rect x="144" y="660" width="51" height="52" fill="#3f7f52" stroke="#17582d" stroke-width="2"/>
<rect x="146.5" y="662.5" width="46" height="47" fill="none" stroke="#17582d" stroke-width="1"/>
<rect x="149" y="665" width="41" height="42" fill="#3f7f52" stroke="#17582d" stroke-width="2"/>
<line x1="157.2" y1="665" x2="157.2" y2="707" stroke="#17582d" stroke-width="3"/>
<line x1="149" y1="673.4" x2="190" y2="673.4" stroke="#17582d" stroke-width="1.6"/>
<line x1="165.4" y1="665" x2="165.4" y2="707" stroke="#17582d" stroke-width="1.6"/>
<line x1="149" y1="681.8" x2="190" y2="681.8" stroke="#17582d" stroke-width="3"/>
<line x1="173.6" y1="665" x2="173.6" y2="707" stroke="#17582d" stroke-width="3"/>
<line x1="149" y1="690.2" x2="190" y2="690.2" stroke="#17582d" stroke-width="1.6"/>
<line x1="181.8" y1="665" x2="181.8" y2="707" stroke="#17582d" stroke-width="1.6"/>
<line x1="149" y1="698.6" x2="190" y2="698.6" stroke="#17582d" stroke-width="1.6"/>
<line x1="228.5" y1="492" x2="228.5" y2="704" stroke="#17582d" stroke-width="2"/>
<rect x="311" y="492" width="78" height="212" fill="#74a56e"/>
<line x1="311" y1="513" x2="389" y2="513" stroke="#17582d" stroke-width="3"/>
<line x1="311" y1="553" x2="389" y2="553" stroke="#17582d" stroke-width="3"/>
<line x1="311" y1="571" x2="389" y2="571" stroke="#17582d" stroke-width="2"/>
<rect x="311" y="509" width="78" height="4" fill="#4d9060"/>
<rect x="311" y="555" width="78" height="4" fill="#4d9060"/>
<line x1="311" y1="588" x2="389" y2="588" stroke="#17582d" stroke-width="3"/>
<line x1="311" y1="628" x2="389" y2="628" stroke="#17582d" stroke-width="3"/>
<line x1="311" y1="646" x2="389" y2="646" stroke="#17582d" stroke-width="2"/>
<rect x="311" y="584" width="78" height="4" fill="#4d9060"/>
<rect x="311" y="630" width="78" height="4" fill="#4d9060"/>
<line x1="311" y1="664" x2="389" y2="664" stroke="#17582d" stroke-width="3"/>
<line x1="311" y1="704" x2="389" y2="704" stroke="#17582d" stroke-width="3"/>
<line x1="311" y1="722" x2="389" y2="722" stroke="#17582d" stroke-width="2"/>
<rect x="311" y="660" width="78" height="4" fill="#4d9060"/>
<rect x="311" y="706" width="78" height="4" fill="#4d9060"/>
<rect x="389" y="492" width="146" height="212" fill="#63a079"/>
<line x1="389.3" y1="492" x2="389.3" y2="704" stroke="#17582d" stroke-width="1.4"/>
<line x1="462.4" y1="492" x2="462.4" y2="704" stroke="#17582d" stroke-width="1.4"/>
<line x1="535.4" y1="492" x2="535.4" y2="704" stroke="#17582d" stroke-width="2"/>
<rect x="400" y="510" width="51" height="47" fill="#3f7f52" stroke="#17582d" stroke-width="2"/>
<rect x="402.5" y="512.5" width="46" height="42" fill="none" stroke="#17582d" stroke-width="1"/>
<rect x="405" y="515" width="41" height="37" fill="#3f7f52" stroke="#17582d" stroke-width="2"/>
<line x1="413.2" y1="515" x2="413.2" y2="552" stroke="#17582d" stroke-width="1.6"/>
<line x1="405" y1="522.4" x2="446" y2="522.4" stroke="#17582d" stroke-width="1.6"/>
<line x1="421.4" y1="515" x2="421.4" y2="552" stroke="#17582d" stroke-width="3"/>
<line x1="405" y1="529.8" x2="446" y2="529.8" stroke="#17582d" stroke-width="3"/>
<line x1="429.6" y1="515" x2="429.6" y2="552" stroke="#17582d" stroke-width="1.6"/>
<line x1="405" y1="537.2" x2="446" y2="537.2" stroke="#17582d" stroke-width="1.6"/>
<line x1="437.8" y1="515" x2="437.8" y2="552" stroke="#17582d" stroke-width="1.6"/>
<line x1="405" y1="544.6" x2="446" y2="544.6" stroke="#17582d" stroke-width="1.6"/>
<rect x="394" y="510" width="6" height="7" fill="#3f7f52" stroke="#17582d" stroke-width="1.5"/>
<rect x="451" y="510" width="6" height="7" fill="#3f7f52" stroke="#17582d" stroke-width="1.5"/>
<rect x="394" y="550" width="6" height="7" fill="#3f7f52" stroke="#17582d" stroke-width="1.5"/>
<rect x="451" y="550" width="6" height="7" fill="#3f7f52" stroke="#17582d" stroke-width="1.5"/>
<rect x="474" y="510" width="51" height="47" fill="#3f7f52" stroke="#17582d" stroke-width="2"/>
<rect x="476.5" y="512.5" width="46" height="42" fill="none" stroke="#17582d" stroke-width="1"/>
<rect x="479" y="515" width="41" height="37" fill="#3f7f52" stroke="#17582d" stroke-width="2"/>
<line x1="487.2" y1="515" x2="487.2" y2="552" stroke="#17582d" stroke-width="1.6"/>
<line x1="479" y1="522.4" x2="520" y2="522.4" stroke="#17582d" stroke-width="1.6"/>
<line x1="495.4" y1="515" x2="495.4" y2="552" stroke="#17582d" stroke-width="3"/>
<line x1="479" y1="529.8" x2="520" y2="529.8" stroke="#17582d" stroke-width="3"/>
<line x1="503.6" y1="515" x2="503.6" y2="552" stroke="#17582d" stroke-width="1.6"/>
<line x1="479" y1="537.2" x2="520" y2="537.2" stroke="#17582d" stroke-width="1.6"/>
<line x1="511.8" y1="515" x2="511.8" y2="552" stroke="#17582d" stroke-width="1.6"/>
<line x1="479" y1="544.6" x2="520" y2="544.6" stroke="#17582d" stroke-width="1.6"/>
<rect x="468" y="510" width="6" height="7" fill="#3f7f52" stroke="#17582d" stroke-width="1.5"/>
<rect x="525" y="510" width="6" height="7" fill="#3f7f52" stroke="#17582d" stroke-width="1.5"/>
<rect x="468" y="550" width="6" height="7" fill="#3f7f52" stroke="#17582d" stroke-width="1.5"/>
<rect x="525" y="550" width="6" height="7" fill="#3f7f52" stroke="#17582d" stroke-width="1.5"/>
<rect x="400" y="585" width="51" height="47" fill="#3f7f52" stroke="#17582d" stroke-width="2"/>
<rect x="402.5" y="587.5" width="46" height="42" fill="none" stroke="#17582d" stroke-width="1"/>
<rect x="405" y="590" width="41" height="37" fill="#3f7f52" stroke="#17582d" stroke-width="2"/>
<line x1="413.2" y1="590" x2="413.2" y2="627" stroke="#17582d" stroke-width="1.6"/>
<line x1="405" y1="597.4" x2="446" y2="597.4" stroke="#17582d" stroke-width="1.6"/>
<line x1="421.4" y1="590" x2="421.4" y2="627" stroke="#17582d" stroke-width="3"/>
<line x1="405" y1="604.8" x2="446" y2="604.8" stroke="#17582d" stroke-width="3"/>
<line x1="429.6" y1="590" x2="429.6" y2="627" stroke="#17582d" stroke-width="1.6"/>
<line x1="405" y1="612.2" x2="446" y2="612.2" stroke="#17582d" stroke-width="1.6"/>
<line x1="437.8" y1="590" x2="437.8" y2="627" stroke="#17582d" stroke-width="1.6"/>
<line x1="405" y1="619.6" x2="446" y2="619.6" stroke="#17582d" stroke-width="1.6"/>
<rect x="394" y="585" width="6" height="7" fill="#3f7f52" stroke="#17582d" stroke-width="1.5"/>
<rect x="451" y="585" width="6" height="7" fill="#3f7f52" stroke="#17582d" stroke-width="1.5"/>
<rect x="394" y="625" width="6" height="7" fill="#3f7f52" stroke="#17582d" stroke-width="1.5"/>
<rect x="451" y="625" width="6" height="7" fill="#3f7f52" stroke="#17582d" stroke-width="1.5"/>
<rect x="474" y="585" width="51" height="47" fill="#3f7f52" stroke="#17582d" stroke-width="2"/>
<rect x="476.5" y="587.5" width="46" height="42" fill="none" stroke="#17582d" stroke-width="1"/>
<rect x="479" y="590" width="41" height="37" fill="#3f7f52" stroke="#17582d" stroke-width="2"/>
<line x1="487.2" y1="590" x2="487.2" y2="627" stroke="#17582d" stroke-width="1.6"/>
<line x1="479" y1="597.4" x2="520" y2="597.4" stroke="#17582d" stroke-width="1.6"/>
<line x1="495.4" y1="590" x2="495.4" y2="627" stroke="#17582d" stroke-width="3"/>
<line x1="479" y1="604.8" x2="520" y2="604.8" stroke="#17582d" stroke-width="3"/>
<line x1="503.6" y1="590" x2="503.6" y2="627" stroke="#17582d" stroke-width="1.6"/>
<line x1="479" y1="612.2" x2="520" y2="612.2" stroke="#17582d" stroke-width="1.6"/>
<line x1="511.8" y1="590" x2="511.8" y2="627" stroke="#17582d" stroke-width="1.6"/>
<line x1="479" y1="619.6" x2="520" y2="619.6" stroke="#17582d" stroke-width="1.6"/>
<rect x="468" y="585" width="6" height="7" fill="#3f7f52" stroke="#17582d" stroke-width="1.5"/>
<rect x="525" y="585" width="6" height="7" fill="#3f7f52" stroke="#17582d" stroke-width="1.5"/>
<rect x="468" y="625" width="6" height="7" fill="#3f7f52" stroke="#17582d" stroke-width="1.5"/>
<rect x="525" y="625" width="6" height="7" fill="#3f7f52" stroke="#17582d" stroke-width="1.5"/>
<rect x="400" y="661" width="51" height="47" fill="#3f7f52" stroke="#17582d" stroke-width="2"/>
<rect x="402.5" y="663.5" width="46" height="42" fill="none" stroke="#17582d" stroke-width="1"/>
<rect x="405" y="666" width="41" height="37" fill="#3f7f52" stroke="#17582d" stroke-width="2"/>
<line x1="413.2" y1="666" x2="413.2" y2="703" stroke="#17582d" stroke-width="1.6"/>
<line x1="405" y1="673.4" x2="446" y2="673.4" stroke="#17582d" stroke-width="1.6"/>
<line x1="421.4" y1="666" x2="421.4" y2="703" stroke="#17582d" stroke-width="3"/>
<line x1="405" y1="680.8" x2="446" y2="680.8" stroke="#17582d" stroke-width="3"/>
<line x1="429.6" y1="666" x2="429.6" y2="703" stroke="#17582d" stroke-width="1.6"/>
<line x1="405" y1="688.2" x2="446" y2="688.2" stroke="#17582d" stroke-width="1.6"/>
<line x1="437.8" y1="666" x2="437.8" y2="703" stroke="#17582d" stroke-width="1.6"/>
<line x1="405" y1="695.6" x2="446" y2="695.6" stroke="#17582d" stroke-width="1.6"/>
<rect x="394" y="661" width="6" height="7" fill="#3f7f52" stroke="#17582d" stroke-width="1.5"/>
<rect x="451" y="661" width="6" height="7" fill="#3f7f52" stroke="#17582d" stroke-width="1.5"/>
<rect x="394" y="701" width="6" height="7" fill="#3f7f52" stroke="#17582d" stroke-width="1.5"/>
<rect x="451" y="701" width="6" height="7" fill="#3f7f52" stroke="#17582d" stroke-width="1.5"/>
<rect x="474" y="661" width="51" height="47" fill="#3f7f52" stroke="#17582d" stroke-width="2"/>
<rect x="476.5" y="663.5" width="46" height="42" fill="none" stroke="#17582d" stroke-width="1"/>
<rect x="479" y="666" width="41" height="37" fill="#3f7f52" stroke="#17582d" stroke-width="2"/>
<line x1="487.2" y1="666" x2="487.2" y2="703" stroke="#17582d" stroke-width="1.6"/>
<line x1="479" y1="673.4" x2="520" y2="673.4" stroke="#17582d" stroke-width="1.6"/>
<line x1="495.4" y1="666" x2="495.4" y2="703" stroke="#17582d" stroke-width="3"/>
<line x1="479" y1="680.8" x2="520" y2="680.8" stroke="#17582d" stroke-width="3"/>
<line x1="503.6" y1="666" x2="503.6" y2="703" stroke="#17582d" stroke-width="1.6"/>
<line x1="479" y1="688.2" x2="520" y2="688.2" stroke="#17582d" stroke-width="1.6"/>
<line x1="511.8" y1="666" x2="511.8" y2="703" stroke="#17582d" stroke-width="1.6"/>
<line x1="479" y1="695.6" x2="520" y2="695.6" stroke="#17582d" stroke-width="1.6"/>
<rect x="468" y="661" width="6" height="7" fill="#3f7f52" stroke="#17582d" stroke-width="1.5"/>
<rect x="525" y="661" width="6" height="7" fill="#3f7f52" stroke="#17582d" stroke-width="1.5"/>
<rect x="468" y="701" width="6" height="7" fill="#3f7f52" stroke="#17582d" stroke-width="1.5"/>
<rect x="525" y="701" width="6" height="7" fill="#3f7f52" stroke="#17582d" stroke-width="1.5"/>
<rect x="536" y="492" width="18" height="212" fill="#72a06a"/>
<line x1="389" y1="496.2" x2="536" y2="496.2" stroke="#17582d" stroke-width="2"/>
<line x1="311" y1="496.2" x2="389" y2="496.2" stroke="#17582d" stroke-width="2"/>
<line x1="389" y1="570.6" x2="536" y2="570.6" stroke="#17582d" stroke-width="2"/>
<line x1="311" y1="570.6" x2="389" y2="570.6" stroke="#17582d" stroke-width="2"/>
<line x1="389" y1="646.7" x2="536" y2="646.7" stroke="#17582d" stroke-width="2"/>
<line x1="311" y1="646.7" x2="389" y2="646.7" stroke="#17582d" stroke-width="2"/>
<line x1="11.4" y1="712" x2="11.4" y2="798" stroke="#6b4a1a" stroke-width="1.4"/>
<line x1="19.6" y1="712" x2="19.6" y2="798" stroke="#6b4a1a" stroke-width="1.4"/>
<line x1="60" y1="712" x2="60" y2="798" stroke="#6b4a1a" stroke-width="1.4"/>
<line x1="68.2" y1="712" x2="68.2" y2="798" stroke="#6b4a1a" stroke-width="1.4"/>
<line x1="76.5" y1="712" x2="76.5" y2="798" stroke="#6b4a1a" stroke-width="1.4"/>
<line x1="84.8" y1="712" x2="84.8" y2="798" stroke="#6b4a1a" stroke-width="1.4"/>
<line x1="126" y1="712" x2="126" y2="798" stroke="#6b4a1a" stroke-width="1.4"/>
<line x1="133.4" y1="712" x2="133.4" y2="798" stroke="#6b4a1a" stroke-width="1.4"/>
<line x1="142.7" y1="712" x2="142.7" y2="798" stroke="#6b4a1a" stroke-width="1.4"/>
<line x1="150" y1="712" x2="150" y2="798" stroke="#6b4a1a" stroke-width="1.4"/>
<line x1="191.3" y1="712" x2="191.3" y2="798" stroke="#6b4a1a" stroke-width="1.4"/>
<line x1="198.5" y1="712" x2="198.5" y2="798" stroke="#6b4a1a" stroke-width="1.4"/>
<rect x="4" y="712" width="2" height="86" fill="#6b4a1a"/>
<rect x="66" y="712" width="12" height="86" fill="#d0ac6c"/>
<rect x="131" y="712" width="12" height="86" fill="#d0ac6c"/>
<rect x="196" y="712" width="32" height="86" fill="#d0ac6c"/>
<line x1="4" y1="740" x2="229" y2="740" stroke="#6b4a1a" stroke-width="3"/>
<line x1="4" y1="780" x2="229" y2="780" stroke="#6b4a1a" stroke-width="3"/>
<line x1="4" y1="797" x2="229" y2="797" stroke="#6b4a1a" stroke-width="2"/>
<rect x="14" y="734" width="51" height="52" fill="#b08a50" stroke="#6b4a1a" stroke-width="2"/>
<rect x="16.5" y="736.5" width="46" height="47" fill="none" stroke="#6b4a1a" stroke-width="1"/>
<rect x="19" y="739" width="41" height="42" fill="#b08a50" stroke="#6b4a1a" stroke-width="2"/>
<line x1="27.2" y1="739" x2="27.2" y2="781" stroke="#6b4a1a" stroke-width="3"/>
<line x1="19" y1="747.4" x2="60" y2="747.4" stroke="#6b4a1a" stroke-width="1.6"/>
<line x1="35.4" y1="739" x2="35.4" y2="781" stroke="#6b4a1a" stroke-width="1.6"/>
<line x1="19" y1="755.8" x2="60" y2="755.8" stroke="#6b4a1a" stroke-width="3"/>
<line x1="43.599999999999994" y1="739" x2="43.599999999999994" y2="781" stroke="#6b4a1a" stroke-width="3"/>
<line x1="19" y1="764.2" x2="60" y2="764.2" stroke="#6b4a1a" stroke-width="1.6"/>
<line x1="51.8" y1="739" x2="51.8" y2="781" stroke="#6b4a1a" stroke-width="1.6"/>
<line x1="19" y1="772.6" x2="60" y2="772.6" stroke="#6b4a1a" stroke-width="1.6"/>
<rect x="79" y="734" width="51" height="52" fill="#b08a50" stroke="#6b4a1a" stroke-width="2"/>
<rect x="81.5" y="736.5" width="46" height="47" fill="none" stroke="#6b4a1a" stroke-width="1"/>
<rect x="84" y="739" width="41" height="42" fill="#b08a50" stroke="#6b4a1a" stroke-width="2"/>
<line x1="92.2" y1="739" x2="92.2" y2="781" stroke="#6b4a1a" stroke-width="3"/>
<line x1="84" y1="747.4" x2="125" y2="747.4" stroke="#6b4a1a" stroke-width="1.6"/>
<line x1="100.4" y1="739" x2="100.4" y2="781" stroke="#6b4a1a" stroke-width="1.6"/>
<line x1="84" y1="755.8" x2="125" y2="755.8" stroke="#6b4a1a" stroke-width="3"/>
<line x1="108.6" y1="739" x2="108.6" y2="781" stroke="#6b4a1a" stroke-width="3"/>
<line x1="84" y1="764.2" x2="125" y2="764.2" stroke="#6b4a1a" stroke-width="1.6"/>
<line x1="116.8" y1="739" x2="116.8" y2="781" stroke="#6b4a1a" stroke-width="1.6"/>
<line x1="84" y1="772.6" x2="125" y2="772.6" stroke="#6b4a1a" stroke-width="1.6"/>
<rect x="144" y="734" width="51" height="52" fill="#b08a50" stroke="#6b4a1a" stroke-width="2"/>
<rect x="146.5" y="736.5" width="46" height="47" fill="none" stroke="#6b4a1a" stroke-width="1"/>
<rect x="149" y="739" width="41" height="42" fill="#b08a50" stroke="#6b4a1a" stroke-width="2"/>
<line x1="157.2" y1="739" x2="157.2" y2="781" stroke="#6b4a1a" stroke-width="3"/>
<line x1="149" y1="747.4" x2="190" y2="747.4" stroke="#6b4a1a" stroke-width="1.6"/>
<line x1="165.4" y1="739" x2="165.4" y2="781" stroke="#6b4a1a" stroke-width="1.6"/>
<line x1="149" y1="755.8" x2="190" y2="755.8" stroke="#6b4a1a" stroke-width="3"/>
<line x1="173.6" y1="739" x2="173.6" y2="781" stroke="#6b4a1a" stroke-width="3"/>
<line x1="149" y1="764.2" x2="190" y2="764.2" stroke="#6b4a1a" stroke-width="1.6"/>
<line x1="181.8" y1="739" x2="181.8" y2="781" stroke="#6b4a1a" stroke-width="1.6"/>
<line x1="149" y1="772.6" x2="190" y2="772.6" stroke="#6b4a1a" stroke-width="1.6"/>
<line x1="228.5" y1="712" x2="228.5" y2="798" stroke="#6b4a1a" stroke-width="2"/>
<rect x="311" y="712" width="78" height="86" fill="#d0ac6c"/>
<line x1="311" y1="739" x2="389" y2="739" stroke="#6b4a1a" stroke-width="3"/>
<line x1="311" y1="779" x2="389" y2="779" stroke="#6b4a1a" stroke-width="3"/>
<line x1="311" y1="797" x2="389" y2="797" stroke="#6b4a1a" stroke-width="2"/>
<rect x="311" y="735" width="78" height="4" fill="#a07a40"/>
<rect x="311" y="781" width="78" height="4" fill="#a07a40"/>
<rect x="389" y="712" width="146" height="86" fill="#c9a66c"/>
<line x1="389.3" y1="712" x2="389.3" y2="798" stroke="#6b4a1a" stroke-width="1.4"/>
<line x1="462.4" y1="712" x2="462.4" y2="798" stroke="#6b4a1a" stroke-width="1.4"/>
<line x1="535.4" y1="712" x2="535.4" y2="798" stroke="#6b4a1a" stroke-width="2"/>
<rect x="400" y="736" width="51" height="47" fill="#b08a50" stroke="#6b4a1a" stroke-width="2"/>
<rect x="402.5" y="738.5" width="46" height="42" fill="none" stroke="#6b4a1a" stroke-width="1"/>
<rect x="405" y="741" width="41" height="37" fill="#b08a50" stroke="#6b4a1a" stroke-width="2"/>
<line x1="413.2" y1="741" x2="413.2" y2="778" stroke="#6b4a1a" stroke-width="1.6"/>
<line x1="405" y1="748.4" x2="446" y2="748.4" stroke="#6b4a1a" stroke-width="1.6"/>
<line x1="421.4" y1="741" x2="421.4" y2="778" stroke="#6b4a1a" stroke-width="3"/>
<line x1="405" y1="755.8" x2="446" y2="755.8" stroke="#6b4a1a" stroke-width="3"/>
<line x1="429.6" y1="741" x2="429.6" y2="778" stroke="#6b4a1a" stroke-width="1.6"/>
<line x1="405" y1="763.2" x2="446" y2="763.2" stroke="#6b4a1a" stroke-width="1.6"/>
<line x1="437.8" y1="741" x2="437.8" y2="778" stroke="#6b4a1a" stroke-width="1.6"/>
<line x1="405" y1="770.6" x2="446" y2="770.6" stroke="#6b4a1a" stroke-width="1.6"/>
<rect x="394" y="736" width="6" height="7" fill="#b08a50" stroke="#6b4a1a" stroke-width="1.5"/>
<rect x="451" y="736" width="6" height="7" fill="#b08a50" stroke="#6b4a1a" stroke-width="1.5"/>
<rect x="394" y="776" width="6" height="7" fill="#b08a50" stroke="#6b4a1a" stroke-width="1.5"/>
<rect x="451" y="776" width="6" height="7" fill="#b08a50" stroke="#6b4a1a" stroke-width="1.5"/>
<rect x="474" y="736" width="51" height="47" fill="#b08a50" stroke="#6b4a1a" stroke-width="2"/>
<rect x="476.5" y="738.5" width="46" height="42" fill="none" stroke="#6b4a1a" stroke-width="1"/>
<rect x="479" y="741" width="41" height="37" fill="#b08a50" stroke="#6b4a1a" stroke-width="2"/>
<line x1="487.2" y1="741" x2="487.2" y2="778" stroke="#6b4a1a" stroke-width="1.6"/>
<line x1="479" y1="748.4" x2="520" y2="748.4" stroke="#6b4a1a" stroke-width="1.6"/>
<line x1="495.4" y1="741" x2="495.4" y2="778" stroke="#6b4a1a" stroke-width="3"/>
<line x1="479" y1="755.8" x2="520" y2="755.8" stroke="#6b4a1a" stroke-width="3"/>
<line x1="503.6" y1="741" x2="503.6" y2="778" stroke="#6b4a1a" stroke-width="1.6"/>
<line x1="479" y1="763.2" x2="520" y2="763.2" stroke="#6b4a1a" stroke-width="1.6"/>
<line x1="511.8" y1="741" x2="511.8" y2="778" stroke="#6b4a1a" stroke-width="1.6"/>
<line x1="479" y1="770.6" x2="520" y2="770.6" stroke="#6b4a1a" stroke-width="1.6"/>
<rect x="468" y="736" width="6" height="7" fill="#b08a50" stroke="#6b4a1a" stroke-width="1.5"/>
<rect x="525" y="736" width="6" height="7" fill="#b08a50" stroke="#6b4a1a" stroke-width="1.5"/>
<rect x="468" y="776" width="6" height="7" fill="#b08a50" stroke="#6b4a1a" stroke-width="1.5"/>
<rect x="525" y="776" width="6" height="7" fill="#b08a50" stroke="#6b4a1a" stroke-width="1.5"/>
<rect x="536" y="712" width="18" height="86" fill="#cfa86a"/>
<line x1="4" y1="722.7" x2="229" y2="722.7" stroke="#6b4a1a" stroke-width="2"/>
<line x1="311" y1="722.7" x2="536" y2="722.7" stroke="#6b4a1a" stroke-width="2"/>
<line x1="4" y1="797" x2="554" y2="797" stroke="#6b4a1a" stroke-width="2"/>
<rect x="4" y="704" width="550" height="8" fill="#bab04c"/>
<rect x="228" y="492" width="19" height="212" fill="#5d9a70"/>
<line x1="236" y1="492" x2="236" y2="704" stroke="#17582d" stroke-width="1.5"/>
<line x1="246" y1="492" x2="246" y2="704" stroke="#17582d" stroke-width="1.5"/>
<rect x="228" y="712" width="19" height="86" fill="#c4a06a"/>
<line x1="236" y1="712" x2="236" y2="798" stroke="#6b4a1a" stroke-width="1.5"/>
<line x1="246" y1="712" x2="246" y2="798" stroke="#6b4a1a" stroke-width="1.5"/>
<rect x="247" y="492" width="47" height="212" fill="#74a56e"/>
<rect x="247" y="712" width="47" height="86" fill="#cfae72"/>
<rect x="247" y="753" width="47" height="40" fill="url(#armg)"/>
<line x1="247" y1="753" x2="294" y2="753" stroke="#6b4a1a" stroke-width="1"/>
<rect x="294" y="492" width="17" height="212" fill="#5a9668"/>
<line x1="296" y1="492" x2="296" y2="704" stroke="#17582d" stroke-width="2.5"/>
<line x1="303" y1="492" x2="303" y2="704" stroke="#17582d" stroke-width="1.5"/>
<rect x="303" y="520" width="6" height="184" fill="#86944e"/>
<rect x="294" y="712" width="17" height="86" fill="#c4a06a"/>
<line x1="296" y1="712" x2="296" y2="798" stroke="#6b4a1a" stroke-width="2.5"/>
<rect x="303" y="712" width="6" height="86" fill="#c8703a"/>
<rect x="4" y="492" width="550" height="3" fill="#8cc090"/>
<rect x="557" y="825" width="269" height="456" fill="#a9d3a1"/>
<rect x="557" y="798" width="262" height="28" fill="#8c909f" stroke="#1a1a1a" stroke-width="1.5"/>
<rect x="570" y="806" width="80" height="18" fill="#6c6e7e" stroke="#1a1a1a" stroke-width="1.5"/>
<rect x="690" y="803" width="35" height="20" fill="#7a7d8c" stroke="#1a1a1a" stroke-width="1"/>
<rect x="702" y="801" width="18" height="6" fill="#d8dbe6"/>
<circle cx="796" cy="820" r="8" fill="#fff" stroke="#333" stroke-width="1"/>
<rect x="557" y="825" width="262" height="278" fill="#5d9b70" stroke="#1e5a30" stroke-width="1.5"/>
<rect x="574" y="828" width="150" height="34" fill="#4f8a82" stroke="#1e5a30" stroke-width="1"/>
<rect x="595" y="832" width="40" height="24" fill="#5d9b70" stroke="#1e5a30" stroke-width="1.5"/>
<rect x="580" y="858" width="165" height="167" fill="#4f8d5f" stroke="#1e5a30" stroke-width="1.5"/>
<circle cx="663" cy="942" r="79" fill="#428a5c" stroke="#1e5a30" stroke-width="1.5"/>
<circle cx="663" cy="942" r="62" fill="#8e9a66" stroke="#17562c" stroke-width="2.5"/>
<circle cx="663" cy="942" r="57" fill="none" stroke="#17562c" stroke-width="1.5"/>
<circle cx="663" cy="942" r="53" fill="#a09a70" stroke="#17562c" stroke-width="1"/>
<circle cx="663" cy="942" r="49" fill="#77a056" stroke="#17562c" stroke-width="2"/>
<rect x="600" y="1025" width="124" height="98" fill="#5d9b70" stroke="#1e5a30" stroke-width="1.5"/>
<rect x="745" y="828" width="73" height="275" fill="#5d9b70" stroke="#1e5a30" stroke-width="1"/>
<circle cx="770" cy="843" r="10" fill="#5d9b70" stroke="#1e5a30" stroke-width="1"/>
<rect x="757" y="890" width="6" height="210" fill="#5d9b70" stroke="#1e5a30" stroke-width="2.5"/>
<rect x="768" y="890" width="6" height="210" fill="#5d9b70" stroke="#1e5a30" stroke-width="2.5"/>
<rect x="580" y="832" width="10" height="270" fill="#5d9b70" stroke="#1e5a30" stroke-width="1"/>
<rect x="578" y="1125" width="167" height="162" fill="#4a7e57" stroke="#1e5a30" stroke-width="1.5"/>
<rect x="578" y="1125" width="167" height="8" fill="#8a8f8a"/>
<rect x="578" y="1279" width="167" height="8" fill="#8a8f8a"/>
<rect x="588" y="1133" width="146" height="146" fill="#467c55" stroke="#1e5a30" stroke-width="1"/>
<rect x="749" y="1103" width="68" height="142" fill="#5a9a72" stroke="#1e5a30" stroke-width="1.5"/>
<rect x="749" y="1213" width="68" height="32" fill="#3f7650" stroke="#1e5a30" stroke-width="1"/>
<text x="246" y="619" font-size="33" letter-spacing="2" font-family="Liberation Sans,sans-serif" fill="#fff">下料区</text>
<text x="246" y="1019" font-size="33" letter-spacing="2" font-family="Liberation Sans,sans-serif" fill="#fff">上料区</text>
<text x="620" y="1094" font-size="33" letter-spacing="2" font-family="Liberation Sans,sans-serif" fill="#fff">下料区</text>
<text x="631" y="685" font-size="34" font-family="Liberation Sans,sans-serif" fill="#fff">动静态测试</text>
</svg>

<!-- right text -->
<div class="badge" style="top:452px;background:#f9da99;">上料</div>
<div class="dot" style="top:540px;"></div>
<div class="li" style="top:524px;">支持 <span class="en">wafer</span>、<span class="en">tray</span> 盘上料；</div>
<div class="dot" style="top:605px;"></div>
<div class="li" style="top:588px;">吸取芯片后通过底部视觉进行定位</div>

<div class="badge" style="top:723px;width:218px;background:#f09b80;">动静态测试</div>
<div class="dot" style="top:814px;"></div>
<div class="li" style="top:798px;">在测试位摆放芯片；</div>
<div class="dot" style="top:878px;"></div>
<div class="li" style="top:861px;">在各自工位分别进行动、静态测试</div>

<div class="badge" style="top:994px;background:#aad3a2;">下料</div>
<div class="dot" style="top:1080px;"></div>
<div class="li" style="top:1064px;">自动化取料，视觉定位后收料</div>
<div class="dot" style="top:1143px;"></div>
<div class="li" style="top:1127px;">支持 <span class="en">wafer</span>、<span class="en">tray</span> 盘收料以及分 <span class="en">bin</span></div>

<div class="cap" style="left:488px;top:1337px;">自动化</div>
<div class="hr" style="left:0;top:1605px;width:2009px;"></div>

<div class="card" style="left:1px;width:990px;"></div>
<div class="card" style="left:1021px;width:990px;"></div>

<svg id="c1" width="1000" height="2907" viewBox="0 0 1000 2907" style="left:0;top:0;">
<polygon points="156.4,2484 215.7,2520.5 549,2427.6 549,2408.6 156.4,2468.1" fill="#d6d9ea" stroke="#222" stroke-width="1" stroke-linejoin="round"/>
<polygon points="215.7,2520.5 549,2427.6 549,2443.1 215.7,2537.1" fill="#4e4c5c" stroke="#222" stroke-width="1" stroke-linejoin="round"/>
<polygon points="156.4,2484 215.7,2520.5 215.7,2537.1 156.4,2499" fill="#8a8ca0" stroke="#222" stroke-width="1" stroke-linejoin="round"/>
<polygon points="249,2513.3 346.7,2488.3 346.7,2501.4 249,2526.4" fill="#3c3a48"/>
<polygon points="265,2420 549,2345 549,2425 300,2490 265,2470" fill="#cfd3e6" stroke="#222" stroke-width="1" stroke-linejoin="round"/>
<polygon points="410.1,2389.8 549.2,2353.8 549.2,2382.3 452.2,2409.4 410.1,2400.4" fill="#cdd1e8" stroke="#222" stroke-width="1" stroke-linejoin="round"/>
<polygon points="449.2,2355.3 549.2,2328.2 549.2,2341.7 449.2,2368.8" fill="#3a3842" stroke="#222" stroke-width="1" stroke-linejoin="round"/>
<polygon points="449.2,2358.3 549.2,2330.5 549.2,2338.7 449.2,2367.3" fill="#d4d2d0" stroke="#222" stroke-width="1" stroke-linejoin="round"/>
<polygon points="402.6,2421.4 549.2,2385.3 549.2,2392.9 405.6,2431.2" fill="#3a3842" stroke="#222" stroke-width="1" stroke-linejoin="round"/>
<polygon points="452.2,2409.4 549.2,2382.3 549.2,2385.3 452.2,2412.4" fill="#5a586a"/>
<polygon points="405.6,2431.2 549.2,2391.4 549.2,2400.4 405.6,2440.2" fill="#d0ccc8" stroke="#222" stroke-width="1" stroke-linejoin="round"/>
<polygon points="380,2457.5 549.2,2416.9 549.2,2425.9 380,2466.5" fill="#dde0f0" stroke="#222" stroke-width="1" stroke-linejoin="round"/>
<line x1="432.6" y1="2388.3" x2="452.2" y2="2409.4" stroke="#555" stroke-width="1"/>
<line x1="534.9" y1="2355.3" x2="549.2" y2="2370.3" stroke="#555" stroke-width="1"/>
<ellipse cx="477.7" cy="2353.8" rx="4" ry="2.5" fill="#777" stroke="#222" stroke-width="1"/>
<ellipse cx="437.1" cy="2434.2" rx="4" ry="2.5" fill="#777" stroke="#222" stroke-width="1"/>
<ellipse cx="509.3" cy="2345.9" rx="4" ry="2.5" fill="#777" stroke="#222" stroke-width="1"/>
<ellipse cx="471" cy="2424.9" rx="4" ry="2.5" fill="#777" stroke="#222" stroke-width="1"/>
<ellipse cx="540.9" cy="2338.1" rx="4" ry="2.5" fill="#777" stroke="#222" stroke-width="1"/>
<ellipse cx="504.8" cy="2415.6" rx="4" ry="2.5" fill="#777" stroke="#222" stroke-width="1"/>
<ellipse cx="572.5" cy="2330.3" rx="4" ry="2.5" fill="#777" stroke="#222" stroke-width="1"/>
<ellipse cx="538.6" cy="2406.2" rx="4" ry="2.5" fill="#777" stroke="#222" stroke-width="1"/>
<polygon points="47.5,2433.4 103.9,2480.4 261.8,2437.1 209.2,2401.4" fill="#dfe2f0" stroke="#222" stroke-width="1" stroke-linejoin="round"/>
<polygon points="47.5,2433.4 103.9,2480.4 261.8,2437.1 263.7,2454.1 106.7,2497.3 47.5,2446.5" fill="#74788f" stroke="#222" stroke-width="1" stroke-linejoin="round"/>
<polygon points="103.9,2480.4 261.8,2437.1 262.7,2440.9 105.8,2484.1" fill="#dfe2f0"/>
<polygon points="352.6,2420.5 397.9,2409.8 403.8,2415.7 361,2426.4" fill="#d2d5e6" stroke="#222" stroke-width="1" stroke-linejoin="round"/>
<polygon points="361,2426.4 403.8,2415.7 403.8,2449 368.1,2458.6" fill="#5c5a6e" stroke="#222" stroke-width="1" stroke-linejoin="round"/>
<polygon points="352.6,2420.5 361,2426.4 368.1,2458.6 352.6,2451.4" fill="#9a9cb0" stroke="#222" stroke-width="1" stroke-linejoin="round"/>
<ellipse cx="403.8" cy="2427.6" rx="6" ry="10" fill="#6a6a72" stroke="#222" stroke-width="1"/>
<ellipse cx="251.4" cy="2468.1" rx="14" ry="11" fill="#5a5a62" stroke="#222" stroke-width="1"/>
<polygon points="195.5,2474 238.3,2468.1 245.5,2475.2 202.6,2481.2" fill="#d0d3e4" stroke="#222" stroke-width="1" stroke-linejoin="round"/>
<polygon points="202.6,2481.2 245.5,2475.2 245.5,2508.6 209.8,2514.5" fill="#5c5a6e" stroke="#222" stroke-width="1" stroke-linejoin="round"/>
<polygon points="195.5,2474 202.6,2481.2 209.8,2514.5 195.5,2503.8" fill="#9a9cb0" stroke="#222" stroke-width="1" stroke-linejoin="round"/>
<ellipse cx="211" cy="2475.2" rx="5" ry="3" fill="#888" stroke="#222" stroke-width="1"/>
<ellipse cx="231.2" cy="2469.3" rx="5" ry="3" fill="#888" stroke="#222" stroke-width="1"/>
<polygon points="264.5,2447.9 307.4,2437.1 314.5,2444.3 271.7,2456.2" fill="#d0d3e4" stroke="#222" stroke-width="1" stroke-linejoin="round"/>
<polygon points="271.7,2456.2 314.5,2444.3 314.5,2477.6 274,2486" fill="#5c5a6e" stroke="#222" stroke-width="1" stroke-linejoin="round"/>
<polygon points="264.5,2447.9 271.7,2456.2 274,2486 265.7,2482.4" fill="#9a9cb0" stroke="#222" stroke-width="1" stroke-linejoin="round"/>
<polygon points="261,2484.8 313.3,2475.2 313.3,2489.5 263.3,2499" fill="#6e6c78" stroke="#222" stroke-width="1" stroke-linejoin="round"/>
<polygon points="316.9,2452.6 359.8,2441.9 364.5,2449 322.9,2459.8" fill="#d0d3e4" stroke="#222" stroke-width="1" stroke-linejoin="round"/>
<polygon points="322.9,2459.8 364.5,2449 364.5,2475.2 322.9,2486" fill="#5c5a6e" stroke="#222" stroke-width="1" stroke-linejoin="round"/>
<polygon points="318.1,2484.8 370.5,2475.2 375.2,2480 322.9,2489.5" fill="#d0d3e4" stroke="#222" stroke-width="1" stroke-linejoin="round"/>
<polygon points="322.9,2489.5 375.2,2480 375.2,2503.8 330,2516.9 322.9,2513.3" fill="#5e5c70" stroke="#222" stroke-width="1" stroke-linejoin="round"/>
<rect x="322.9" y="2462.1" width="8" height="24" fill="#b8bac8" stroke="#222" stroke-width="1"/>
<rect x="358.6" y="2449" width="8" height="24" fill="#b8bac8" stroke="#222" stroke-width="1"/>
<polygon points="301.4,2499 318.1,2496.7 318.1,2503.8 301.4,2506.2" fill="#b8bac8" stroke="#222" stroke-width="1" stroke-linejoin="round"/>
<polygon points="55,2377 98.3,2412.7 99.2,2478.5 55,2439" fill="#9c9fb3" stroke="#222" stroke-width="1" stroke-linejoin="round"/>
<polygon points="98.3,2412.7 178.2,2397.7 178.2,2457.8 99.2,2478.5" fill="#4d4b62" stroke="#222" stroke-width="1" stroke-linejoin="round"/>
<polygon points="62.6,2405.2 90.8,2427.7 91.7,2461.6 62.6,2442.8" fill="#5a3a30" stroke="#222" stroke-width="1" stroke-linejoin="round"/>
<circle cx="75.7" cy="2431.5" r="5" fill="#a0a8b8"/>
<polygon points="66.3,2338.5 126.5,2330 160.3,2352.6 160.3,2399.5 98.3,2410.8 66.3,2382.6" fill="#ecebf0" stroke="#222" stroke-width="1.2" stroke-linejoin="round"/>
<polygon points="70.1,2341.3 124.6,2332.8 152.8,2351.6 100.2,2363.8" fill="#c7bfcf" stroke="#222" stroke-width="1" stroke-linejoin="round"/>
<polygon points="102,2367.6 160.3,2352.6 160.3,2399.5 102,2410.8" fill="#cfc8d6" stroke="#222" stroke-width="1" stroke-linejoin="round"/>
<polygon points="160.3,2352.6 178.2,2348.8 178.2,2399.5 160.3,2399.5" fill="#d6d9e8" stroke="#222" stroke-width="1" stroke-linejoin="round"/>
<polygon points="144,2320.2 168,2316.2 190.1,2344.3 176.1,2352.3 150,2354.3" fill="#d8dae8" stroke="#222" stroke-width="1" stroke-linejoin="round"/>
<polygon points="138,2324.2 162,2316.2 196.1,2342.3 178.1,2350.3" fill="#2ea34b" stroke="#222" stroke-width="1" stroke-linejoin="round"/>
<polygon points="168,2316.2 216.2,2303.2 248.2,2330.3 190.1,2344.3" fill="#9c98ac" stroke="#222" stroke-width="1" stroke-linejoin="round"/>
<polygon points="190.1,2344.3 216.2,2303.2 240.2,2328.2" fill="#d0d0d6"/>
<polygon points="176.1,2352.3 248.2,2330.3 249.2,2382.4 178.1,2398.4" fill="#44376f" stroke="#222" stroke-width="1.2" stroke-linejoin="round"/>
<polygon points="176.1,2350.3 248.2,2328.2 248.2,2332.3 176.1,2354.3" fill="#a89ee6"/>
<polygon points="178.1,2396.4 249.2,2380.4 249.2,2385.4 178.1,2401.4" fill="#7a3e1e"/>
<polygon points="196.1,2398.4 238.2,2388.4 238.2,2436.5 202.1,2444.5" fill="#2b2830" stroke="#222" stroke-width="1" stroke-linejoin="round"/>
<ellipse cx="190.1" cy="2414.5" rx="9" ry="16" fill="#3a3840" stroke="#222" stroke-width="1"/>
<polygon points="250.3,2348.3 404.6,2310.2 407.6,2378.4 262.3,2417.5 250.3,2406.4" fill="#332e3a" stroke="#222" stroke-width="1" stroke-linejoin="round"/>
<polygon points="250.3,2348.3 258.3,2360.3 262.3,2417.5 250.3,2406.4" fill="#4a4652" stroke="#222" stroke-width="1" stroke-linejoin="round"/>
<polygon points="258.3,2417.5 408.6,2377.4 410.7,2390.4 262.3,2438.5 258.3,2428.5" fill="#4a4750" stroke="#222" stroke-width="1" stroke-linejoin="round"/>
<circle cx="270.3" cy="2412.5" r="3" fill="#666" stroke="#222" stroke-width="1"/>
<circle cx="396.6" cy="2374.4" r="3" fill="#666" stroke="#222" stroke-width="1"/>
<polygon points="366.3,2273.8 397.1,2264.4 447.9,2313.3 410.3,2324.6" fill="#7b7a80" stroke="#222" stroke-width="1" stroke-linejoin="round"/>
<polygon points="366.3,2273.8 410.3,2324.6 408.4,2379.1 366.3,2352.8" fill="#3c3842" stroke="#222" stroke-width="1" stroke-linejoin="round"/>
<polygon points="410.3,2324.6 447.9,2313.3 447.9,2364.1 408.4,2379.1" fill="#36323c" stroke="#222" stroke-width="1" stroke-linejoin="round"/>
<polygon points="197.1,2282.1 326.4,2245 398.6,2310.2 270.3,2348.3" fill="#f2d5c2" stroke="#222" stroke-width="1.2" stroke-linejoin="round"/>
<polygon points="197.1,2282.1 270.3,2348.3 270.3,2358.3 197.1,2294.2" fill="#dcbfae" stroke="#222" stroke-width="1" stroke-linejoin="round"/>
<polygon points="270.3,2348.3 398.6,2310.2 399.6,2322.2 270.3,2358.3" fill="#c9a995" stroke="#222" stroke-width="1" stroke-linejoin="round"/>
<polygon points="265.3,2307.2 351.5,2282.5 361.5,2299.2 361.5,2310.2 274.3,2333.3 265.3,2318.2" fill="#8e6e16" stroke="#222" stroke-width="1" stroke-linejoin="round"/>
<polygon points="232.2,2272.1 320.4,2249 351.5,2282.5 265.3,2307.2" fill="#d3a92c" stroke="#222" stroke-width="1.2" stroke-linejoin="round"/>
<polygon points="232.2,2272.1 265.3,2307.2 265.3,2318.2 232.2,2285.1" fill="#a88624" stroke="#222" stroke-width="1" stroke-linejoin="round"/>
<polygon points="326.4,2290.2 360.5,2299.2 360.5,2309.2 328.4,2314.2" fill="#d8b030" stroke="#222" stroke-width="1" stroke-linejoin="round"/>
<polygon points="222.2,2264.1 274.3,2250.1 280.3,2257.1 232.2,2273.1" fill="#efd6c8" stroke="#222" stroke-width="1" stroke-linejoin="round"/>
<polygon points="222.2,2264.1 232.2,2273.1 232.2,2286.1 222.2,2277.1" fill="#a8968a" stroke="#222" stroke-width="1" stroke-linejoin="round"/>
<polygon points="270.3,2307.2 320.4,2293.2 328.4,2300.2 278.3,2314.2" fill="#ead0c2" stroke="#222" stroke-width="1" stroke-linejoin="round"/>
<polygon points="278.3,2314.2 328.4,2300.2 328.4,2314.2 278.3,2325.2" fill="#b09a8e" stroke="#222" stroke-width="1" stroke-linejoin="round"/>
<polygon points="270.3,2307.2 278.3,2314.2 278.3,2325.2 270.3,2318.2" fill="#d2b8aa" stroke="#222" stroke-width="1" stroke-linejoin="round"/>
<ellipse cx="236.2" cy="2267.1" rx="5" ry="3.5" fill="#7a6a60" stroke="#222" stroke-width="1"/>
<ellipse cx="267.3" cy="2256.1" rx="5" ry="3.5" fill="#7a6a60" stroke="#222" stroke-width="1"/>
<ellipse cx="283.3" cy="2308.2" rx="5" ry="3.5" fill="#7a6a60" stroke="#222" stroke-width="1"/>
<ellipse cx="315.4" cy="2299.2" rx="5" ry="3.5" fill="#7a6a60" stroke="#222" stroke-width="1"/>
<polygon points="293.4,2271.1 314.4,2265.1 323.4,2275.1 302.4,2281.1" fill="#3a2a10"/>
<polygon points="298.4,2271.7 313.4,2267.7 318.8,2274.1 303.8,2278.5" fill="#c39c2a"/>
<line x1="296.4" y1="2272.1" x2="320.4" y2="2278.1" stroke="#3a2a10" stroke-width="1.2"/>
<line x1="310.4" y1="2266.1" x2="306.4" y2="2280.1" stroke="#3a2a10" stroke-width="1.2"/>
<polygon points="441,2280 553,2250 553,2331 494,2346 443,2360" fill="#0b4452"/>
<polygon points="553,2250 925,2146 925,2356 561,2460 553,2455" fill="#023a46" stroke="#01303a" stroke-width="1" stroke-linejoin="round"/>
<polygon points="550,2252 561,2249 561,2460 550,2455" fill="#0d8088"/>
<polygon points="323,2175 805,2036 925,2140 441,2275" fill="#19acb1" stroke="#0b5a60" stroke-width="1" stroke-linejoin="round"/>
<polygon points="323,2175 331,2182 331,2200 323,2194" fill="#148e98" stroke="#0b5a60" stroke-width="1" stroke-linejoin="round"/>
<polygon points="437,2272 925,2140 925,2147 443,2280 443,2294 437,2293" fill="#1ca8b4" stroke="#0b5a60" stroke-width="1" stroke-linejoin="round"/>
<polygon points="447.9,2300.2 491.1,2288.9 502.4,2315.2 502.4,2341.5 447.9,2364.1" fill="#2e2a32" stroke="#222" stroke-width="1" stroke-linejoin="round"/>
<polygon points="447.9,2300.2 491.1,2288.9 503.2,2302 457.3,2311.4" fill="#5a5860" stroke="#222" stroke-width="1" stroke-linejoin="round"/>
<ellipse cx="496.8" cy="2305.8" rx="8" ry="17" fill="#56545a" stroke="#222" stroke-width="1"/>
<polygon points="397.1,2264.4 431,2255 447.9,2270.1 447.9,2313.3" fill="#7b7a80" stroke="#222" stroke-width="1" stroke-linejoin="round"/>
<polygon points="431,2255 447.9,2251.3 447.9,2270.1" fill="#6a6a70"/>
<polygon points="330.7,2182.6 448.2,2149.7 550.6,2239 437.8,2272.9" fill="#2aac39" stroke="#136a20" stroke-width="1" stroke-linejoin="round"/>
<polygon points="330.7,2182.6 437.8,2272.9 437.8,2287.9 334.4,2199.5" fill="#1c8a2c" stroke="#136a20" stroke-width="1" stroke-linejoin="round"/>
<polygon points="437.8,2272.9 441.6,2272.9 445.3,2293.5 437.8,2291.7" fill="#1ca8b4"/>
<ellipse cx="441.6" cy="2211" rx="22" ry="14" fill="#1a7a2a"/>
<ellipse cx="441.6" cy="2214" rx="16" ry="9" fill="#ffffff"/>
<polygon points="437,2209 452,2206 452,2222 437,2222" fill="#1a6a80"/>
<rect x="442" y="1952" width="2" height="257" fill="#c8161d"/>
<circle cx="443" cy="2209" r="7.5" fill="#d0101a"/>
<rect x="275" y="2062" width="2" height="209" fill="#c8161d"/>
<circle cx="276" cy="2271" r="7.5" fill="#d0101a"/>
</svg>
<svg id="c2" width="2014" height="2907" viewBox="0 0 2014 2907" style="left:0;top:0;">
<polygon points="1744.6,2108.8 1773.6,2108.8 1779.1,2280 1779.5,2295.3 1747.9,2295.3" fill="#5e6072" stroke="#1e1e28" stroke-width="1" stroke-linejoin="round"/>
<polygon points="1705.2,2106.3 1775.1,2106.3 1778.3,2293.7 1749.7,2296.8 1749.7,2217.4 1705.2,2217.4" fill="#606275" stroke="#1e1e28" stroke-width="1" stroke-linejoin="round"/>
<polygon points="1708.8,2115.7 1746,2113 1747.4,2184.6 1708.8,2184.6" fill="#8e91a4" stroke="#1e1e28" stroke-width="1" stroke-linejoin="round"/>
<circle cx="1721.2" cy="2168.1" r="3" fill="#eee" stroke="#1e1e28" stroke-width="1"/>
<circle cx="1740.5" cy="2168.1" r="3" fill="#eee" stroke="#1e1e28" stroke-width="1"/>
<polygon points="1489.6,2126.7 1744.6,2108.8 1744.6,2154.3 1489.6,2154.3" fill="#d7dae8" stroke="#1e1e28" stroke-width="1" stroke-linejoin="round"/>
<polygon points="1553,2121.2 1635.7,2118.5 1635.7,2140.5 1564,2140.5" fill="#606274" stroke="#1e1e28" stroke-width="1" stroke-linejoin="round"/>
<polygon points="1652.3,2115.7 1701.9,2113 1701.9,2135 1652.3,2135" fill="#6a6c7e" stroke="#1e1e28" stroke-width="1" stroke-linejoin="round"/>
<rect x="1655" y="2115.7" width="35" height="15" fill="#e0e2ec"/>
<polygon points="1552.8,2120.3 1702.8,2111.3 1702.8,2151.9 1552.8,2153" fill="#4c4e5e" stroke="#1e1e28" stroke-width="1" stroke-linejoin="round"/>
<polygon points="1561.8,2122.6 1595.7,2121.4 1595.7,2136.1 1562.9,2137.2" fill="#d8dbe8" stroke="#1e1e28" stroke-width="1" stroke-linejoin="round"/>
<polygon points="1652,2113.5 1688.1,2111.3 1688.1,2130.5 1653.2,2131.6" fill="#d8dbe8" stroke="#1e1e28" stroke-width="1" stroke-linejoin="round"/>
<polygon points="1702.8,2111.3 1744.5,2109 1744.5,2154.1 1702.8,2156.4" fill="#d8dbe8" stroke="#1e1e28" stroke-width="1" stroke-linejoin="round"/>
<polygon points="1705.1,2129.3 1744.5,2127.1 1746.8,2183.5 1710.7,2183.5" fill="#8e91a4" stroke="#1e1e28" stroke-width="1" stroke-linejoin="round"/>
<circle cx="1720.8" cy="2168.8" r="3" fill="#eee" stroke="#1e1e28" stroke-width="1"/>
<circle cx="1740" cy="2167.7" r="3" fill="#eee" stroke="#1e1e28" stroke-width="1"/>
<polygon points="1459.2,2127.1 1488.5,2125.9 1493,2172.2 1462.6,2173.3" fill="#9a9db0" stroke="#1e1e28" stroke-width="1" stroke-linejoin="round"/>
<polygon points="1710.7,2183.5 1746.8,2183.5 1746.8,2294 1710.7,2294" fill="#55576a" stroke="#1e1e28" stroke-width="1" stroke-linejoin="round"/>
<rect x="1710.7" y="2232" width="22" height="22" fill="#f4f4f6"/>
<circle cx="1717.9" cy="2204.2" r="2.6" fill="#e8e8ea"/>
<circle cx="1730.3" cy="2204.2" r="2.6" fill="#e8e8ea"/>
<circle cx="1743" cy="2204.2" r="2.6" fill="#e8e8ea"/>
<circle cx="1717.9" cy="2268.1" r="2.6" fill="#e8e8ea"/>
<circle cx="1730.3" cy="2268.1" r="2.6" fill="#e8e8ea"/>
<circle cx="1743" cy="2268.1" r="2.6" fill="#e8e8ea"/>
<polygon points="1456.2,2128.5 1501.9,2128.5 1501.9,2312.7 1456.2,2312.7" fill="#5b5d70" stroke="#1e1e28" stroke-width="1" stroke-linejoin="round"/>
<polygon points="1450.2,2240 1493,2240 1493,2314.4 1461.4,2316.7 1450.2,2305.4" fill="#5b5d70" stroke="#1e1e28" stroke-width="1" stroke-linejoin="round"/>
<circle cx="1456" cy="2200" r="1.6" fill="#222"/>
<circle cx="1456" cy="2260" r="1.6" fill="#222"/>
<circle cx="1456" cy="2300" r="1.6" fill="#222"/>
<polygon points="1489.6,2129.5 1511.6,2154.3 1511.6,2198.4 1492.3,2198.4" fill="#b4aca4" stroke="#1e1e28" stroke-width="1" stroke-linejoin="round"/>
<polygon points="1511.6,2154.3 1710.2,2140.5 1710.2,2226 1511.6,2234.3" fill="#56586b" stroke="#1e1e28" stroke-width="1" stroke-linejoin="round"/>
<circle cx="1526.8" cy="2161.2" r="3" fill="#3a3c4a" stroke="#aeb2c2" stroke-width="1"/>
<circle cx="1526.8" cy="2186" r="3.6" fill="#3a3c4a" stroke="#aeb2c2" stroke-width="1"/>
<circle cx="1536.5" cy="2209.5" r="3.6" fill="#3a3c4a" stroke="#aeb2c2" stroke-width="1"/>
<circle cx="1569.5" cy="2208.1" r="3.6" fill="#3a3c4a" stroke="#aeb2c2" stroke-width="1"/>
<circle cx="1693.6" cy="2150.2" r="3.6" fill="#3a3c4a" stroke="#aeb2c2" stroke-width="1"/>
<circle cx="1693.6" cy="2175" r="3.6" fill="#3a3c4a" stroke="#aeb2c2" stroke-width="1"/>
<circle cx="1652.3" cy="2190.2" r="3.6" fill="#3a3c4a" stroke="#aeb2c2" stroke-width="1"/>
<circle cx="1650.9" cy="2201.2" r="3.6" fill="#3a3c4a" stroke="#aeb2c2" stroke-width="1"/>
<circle cx="1679.8" cy="2188.8" r="3.6" fill="#3a3c4a" stroke="#aeb2c2" stroke-width="1"/>
<circle cx="1684" cy="2198.4" r="3.6" fill="#3a3c4a" stroke="#aeb2c2" stroke-width="1"/>
<circle cx="1562.6" cy="2168.1" r="1.2" fill="#3a3c4a" stroke="#aeb2c2" stroke-width="1"/>
<circle cx="1546.1" cy="2191.5" r="1.2" fill="#3a3c4a" stroke="#aeb2c2" stroke-width="1"/>
<circle cx="1659.1" cy="2161.2" r="1.2" fill="#3a3c4a" stroke="#aeb2c2" stroke-width="1"/>
<circle cx="1674.3" cy="2217.7" r="1.2" fill="#3a3c4a" stroke="#aeb2c2" stroke-width="1"/>
<circle cx="1502" cy="2219.1" r="1.8" fill="#3a3c4a" stroke="#aeb2c2" stroke-width="1"/>
<circle cx="1503.4" cy="2183.3" r="1.8" fill="#3a3c4a" stroke="#aeb2c2" stroke-width="1"/>
<polygon points="1597.1,2108.8 1633,2108.8 1633,2154.3 1597.1,2154.3" fill="#4c4e60" stroke="#1e1e28" stroke-width="1" stroke-linejoin="round"/>
<circle cx="1602.6" cy="2111.6" r="2" fill="#ddd"/>
<circle cx="1615" cy="2111.6" r="2" fill="#ddd"/>
<circle cx="1627.4" cy="2111.6" r="2" fill="#ddd"/>
<circle cx="1602.6" cy="2129.5" r="2" fill="#ddd"/>
<circle cx="1615" cy="2129.5" r="2" fill="#ddd"/>
<circle cx="1627.4" cy="2129.5" r="2" fill="#ddd"/>
<polygon points="1591.6,2154.3 1631.6,2154.3 1631.6,2165.3 1591.6,2165.3" fill="#4c4e60" stroke="#1e1e28" stroke-width="1" stroke-linejoin="round"/>
<polygon points="1573.7,2170.9 1645.4,2168.1 1645.4,2190.2 1573.7,2190.2" fill="#6b6d80" stroke="#1e1e28" stroke-width="1" stroke-linejoin="round"/>
<circle cx="1593" cy="2179.1" r="4.5" fill="#3a3c48" stroke="#b8bccc" stroke-width="1.2"/>
<circle cx="1608.1" cy="2179.1" r="4.5" fill="#3a3c48" stroke="#b8bccc" stroke-width="1.2"/>
<circle cx="1623.3" cy="2179.1" r="4.5" fill="#3a3c48" stroke="#b8bccc" stroke-width="1.2"/>
<circle cx="1638.5" cy="2179.1" r="4.5" fill="#3a3c48" stroke="#b8bccc" stroke-width="1.2"/>
<polygon points="1497.9,2237 1732.2,2220.5 1732.2,2237 1497.9,2253.6" fill="#5a5c6f" stroke="#1e1e28" stroke-width="1" stroke-linejoin="round"/>
<polygon points="1600.4,2227 1667.1,2227 1667.1,2427.1 1600.4,2427.1" fill="#54566a" stroke="#1e1e28" stroke-width="1" stroke-linejoin="round"/>
<circle cx="1619.4" cy="2233.3" r="2" fill="#bbb"/>
<circle cx="1635.3" cy="2233.3" r="2" fill="#bbb"/>
<circle cx="1651.2" cy="2233.3" r="2" fill="#bbb"/>
<circle cx="1619.4" cy="2252.4" r="2" fill="#bbb"/>
<circle cx="1635.3" cy="2252.4" r="2" fill="#bbb"/>
<circle cx="1651.2" cy="2252.4" r="2" fill="#bbb"/>
<polygon points="1670.1,2240 1708.4,2240 1708.4,2513 1674.6,2514.1" fill="#5a5c6f" stroke="#1e1e28" stroke-width="1" stroke-linejoin="round"/>
<polygon points="1670.1,2348.3 1708.4,2348.3 1708.4,2377.6 1670.1,2377.6" fill="#5d5f72" stroke="#1e1e28" stroke-width="1" stroke-linejoin="round"/>
<circle cx="1684.8" cy="2359.6" r="5" fill="#e8e8e8" stroke="#1e1e28" stroke-width="1"/>
<circle cx="1684.8" cy="2393.4" r="5" fill="#e8e8e8" stroke="#1e1e28" stroke-width="1"/>
<polygon points="1708.4,2298.7 1720.8,2298.7 1720.8,2375.3 1708.4,2375.3" fill="#54566a" stroke="#1e1e28" stroke-width="1" stroke-linejoin="round"/>
<polygon points="1747.9,2240 1779.5,2240 1779.5,2295.3 1747.9,2295.3" fill="#5e6072" stroke="#1e1e28" stroke-width="1" stroke-linejoin="round"/>
<polygon points="1485.1,2249 1606.9,2249 1606.9,2379.9 1485.1,2379.9" fill="#3e3a3e" stroke="#1e1e28" stroke-width="1" stroke-linejoin="round"/>
<polygon points="1500.9,2251.3 1537,2251.3 1537,2377.6 1500.9,2377.6" fill="#4d4848" stroke="#1e1e28" stroke-width="1.2" stroke-linejoin="round"/>
<polygon points="1503.2,2249 1534.7,2249 1534.7,2260.3 1503.2,2260.3" fill="#c6c2bc" stroke="#1e1e28" stroke-width="1" stroke-linejoin="round"/>
<polygon points="1515.6,2260.3 1534.7,2260.3 1534.7,2291.9 1515.6,2291.9" fill="#5e5654" stroke="#1e1e28" stroke-width="1" stroke-linejoin="round"/>
<polygon points="1520.1,2294.1 1528,2294.1 1528,2334.7 1520.1,2334.7" fill="#b8b8bc" stroke="#1e1e28" stroke-width="1" stroke-linejoin="round"/>
<polygon points="1513.3,2314.4 1534.7,2314.4 1534.7,2370.8 1513.3,2370.8" fill="none" stroke="#1e1e28" stroke-width="1.5" stroke-linejoin="round"/>
<polygon points="1538.1,2251.3 1574.2,2251.3 1574.2,2377.6 1538.1,2377.6" fill="#4d4848" stroke="#1e1e28" stroke-width="1.2" stroke-linejoin="round"/>
<polygon points="1540.4,2249 1572,2249 1572,2260.3 1540.4,2260.3" fill="#c6c2bc" stroke="#1e1e28" stroke-width="1" stroke-linejoin="round"/>
<polygon points="1552.8,2260.3 1572,2260.3 1572,2291.9 1552.8,2291.9" fill="#5e5654" stroke="#1e1e28" stroke-width="1" stroke-linejoin="round"/>
<polygon points="1557.3,2294.1 1565.2,2294.1 1565.2,2334.7 1557.3,2334.7" fill="#b8b8bc" stroke="#1e1e28" stroke-width="1" stroke-linejoin="round"/>
<polygon points="1550.5,2314.4 1572,2314.4 1572,2370.8 1550.5,2370.8" fill="none" stroke="#1e1e28" stroke-width="1.5" stroke-linejoin="round"/>
<polygon points="1570.8,2251.3 1606.9,2251.3 1606.9,2377.6 1570.8,2377.6" fill="#4d4848" stroke="#1e1e28" stroke-width="1.2" stroke-linejoin="round"/>
<polygon points="1573.1,2249 1604.7,2249 1604.7,2260.3 1573.1,2260.3" fill="#c6c2bc" stroke="#1e1e28" stroke-width="1" stroke-linejoin="round"/>
<polygon points="1585.5,2260.3 1604.7,2260.3 1604.7,2291.9 1585.5,2291.9" fill="#5e5654" stroke="#1e1e28" stroke-width="1" stroke-linejoin="round"/>
<polygon points="1590,2294.1 1597.9,2294.1 1597.9,2334.7 1590,2334.7" fill="#b8b8bc" stroke="#1e1e28" stroke-width="1" stroke-linejoin="round"/>
<polygon points="1583.2,2314.4 1604.7,2314.4 1604.7,2370.8 1583.2,2370.8" fill="none" stroke="#1e1e28" stroke-width="1.5" stroke-linejoin="round"/>
<polygon points="1488.5,2316.7 1500.9,2316.7 1500.9,2373.1 1488.5,2373.1" fill="#d4d4d6" stroke="#1e1e28" stroke-width="1" stroke-linejoin="round"/>
<polygon points="1488.5,2316.7 1500.9,2316.7 1500.9,2332.5 1488.5,2332.5" fill="#2e2e34" stroke="#1e1e28" stroke-width="1" stroke-linejoin="round"/>
<polygon points="1605.8,2276.1 1670.1,2280.6 1670.1,2449.8 1611.4,2449.8" fill="#5e6074" stroke="#1e1e28" stroke-width="1" stroke-linejoin="round"/>
<polygon points="1611.4,2285.1 1625,2285.1 1625,2427.2 1611.4,2427.2" fill="#a4a8bc" stroke="#1e1e28" stroke-width="1" stroke-linejoin="round"/>
<polygon points="1625,2287.4 1665.6,2287.4 1665.6,2427.2 1625,2427.2" fill="#4e5064" stroke="#1e1e28" stroke-width="1" stroke-linejoin="round"/>
<polygon points="1611.4,2413.7 1670.1,2413.7 1670.1,2420.5 1611.4,2420.5" fill="#a4a8bc"/>
<polygon points="1480.6,2368.6 1606.9,2375.3 1611.4,2391.1 1498.7,2388.9" fill="#8a8da2" stroke="#1e1e28" stroke-width="1" stroke-linejoin="round"/>
<polygon points="1480.6,2368.6 1498.7,2388.9 1498.7,2555.8 1480.6,2540" fill="#6e7186" stroke="#1e1e28" stroke-width="1" stroke-linejoin="round"/>
<polygon points="1485.1,2397.9 1496.4,2402.4 1496.4,2540 1485.1,2531" fill="#3a3c4a"/>
<polygon points="1498.7,2388.9 1611.4,2391.1 1611.4,2562.6 1512.2,2568.2 1498.7,2555.8" fill="#575a6f" stroke="#1e1e28" stroke-width="1.2" stroke-linejoin="round"/>
<line x1="1577.6" y1="2425" x2="1577.6" y2="2562.6" stroke="#222" stroke-width="1.5"/>
<polygon points="1498.7,2388.9 1514.4,2397.9 1514.4,2567.1 1498.7,2555.8" fill="#666a80"/>
<polygon points="1611.4,2449.8 1659.9,2449.8 1659.9,2485.9 1611.4,2485.9" fill="#2a2a30" stroke="#1e1e28" stroke-width="1" stroke-linejoin="round"/>
<polygon points="1652,2449.8 1661.1,2449.8 1661.1,2470.1 1652,2470.1" fill="#8a8a90" stroke="#1e1e28" stroke-width="1" stroke-linejoin="round"/>
<polygon points="1611.4,2476.9 1672.3,2474.6 1672.3,2497.2 1611.4,2498.3" fill="#e07a1e" stroke="#1e1e28" stroke-width="1" stroke-linejoin="round"/>
<polygon points="1613.7,2497.2 1672.3,2497.2 1672.3,2547.9 1613.7,2550.2" fill="#2a6a3c" stroke="#1e1e28" stroke-width="1" stroke-linejoin="round"/>
<line x1="1618.2" y1="2499.4" x2="1618.2" y2="2545.7" stroke="#b0a040" stroke-width="1"/>
<line x1="1622.7" y1="2499.4" x2="1622.7" y2="2545.7" stroke="#b0a040" stroke-width="1"/>
<line x1="1627.2" y1="2499.4" x2="1627.2" y2="2545.7" stroke="#b0a040" stroke-width="1"/>
<line x1="1631.7" y1="2499.4" x2="1631.7" y2="2545.7" stroke="#b0a040" stroke-width="1"/>
<line x1="1636.3" y1="2499.4" x2="1636.3" y2="2545.7" stroke="#b0a040" stroke-width="1"/>
<line x1="1640.8" y1="2499.4" x2="1640.8" y2="2545.7" stroke="#b0a040" stroke-width="1"/>
<line x1="1645.3" y1="2499.4" x2="1645.3" y2="2545.7" stroke="#b0a040" stroke-width="1"/>
<line x1="1649.8" y1="2499.4" x2="1649.8" y2="2545.7" stroke="#b0a040" stroke-width="1"/>
<line x1="1654.3" y1="2499.4" x2="1654.3" y2="2545.7" stroke="#b0a040" stroke-width="1"/>
<line x1="1658.8" y1="2499.4" x2="1658.8" y2="2545.7" stroke="#b0a040" stroke-width="1"/>
<line x1="1663.3" y1="2499.4" x2="1663.3" y2="2545.7" stroke="#b0a040" stroke-width="1"/>
<line x1="1667.8" y1="2499.4" x2="1667.8" y2="2545.7" stroke="#b0a040" stroke-width="1"/>
<rect x="1501" y="2566" width="18" height="17" fill="#b49a48" stroke="#1e1e28" stroke-width="1"/>
<line x1="1501" y1="2570" x2="1519" y2="2570" stroke="#5a4a20" stroke-width="1"/>
<line x1="1501" y1="2575" x2="1519" y2="2575" stroke="#5a4a20" stroke-width="1"/>
<line x1="1501" y1="2580" x2="1519" y2="2580" stroke="#5a4a20" stroke-width="1"/>
<ellipse cx="1510" cy="2585" rx="12" ry="3.5" fill="#222"/>
<rect x="1506" y="2588" width="8" height="7" fill="#c8ccd8" stroke="#1e1e28" stroke-width="1"/>
<ellipse cx="1510" cy="2596" rx="12" ry="3.5" fill="#222"/>
<rect x="1507" y="2599" width="6" height="13" fill="#aab0c0" stroke="#1e1e28" stroke-width="1"/>
<rect x="1534" y="2566" width="18" height="17" fill="#b49a48" stroke="#1e1e28" stroke-width="1"/>
<line x1="1534" y1="2570" x2="1552" y2="2570" stroke="#5a4a20" stroke-width="1"/>
<line x1="1534" y1="2575" x2="1552" y2="2575" stroke="#5a4a20" stroke-width="1"/>
<line x1="1534" y1="2580" x2="1552" y2="2580" stroke="#5a4a20" stroke-width="1"/>
<ellipse cx="1543" cy="2585" rx="12" ry="3.5" fill="#222"/>
<rect x="1539" y="2588" width="8" height="7" fill="#c8ccd8" stroke="#1e1e28" stroke-width="1"/>
<ellipse cx="1543" cy="2596" rx="12" ry="3.5" fill="#222"/>
<rect x="1540" y="2599" width="6" height="13" fill="#aab0c0" stroke="#1e1e28" stroke-width="1"/>
<rect x="1566" y="2566" width="18" height="17" fill="#b49a48" stroke="#1e1e28" stroke-width="1"/>
<line x1="1566" y1="2570" x2="1584" y2="2570" stroke="#5a4a20" stroke-width="1"/>
<line x1="1566" y1="2575" x2="1584" y2="2575" stroke="#5a4a20" stroke-width="1"/>
<line x1="1566" y1="2580" x2="1584" y2="2580" stroke="#5a4a20" stroke-width="1"/>
<ellipse cx="1575" cy="2585" rx="12" ry="3.5" fill="#222"/>
<rect x="1571" y="2588" width="8" height="7" fill="#c8ccd8" stroke="#1e1e28" stroke-width="1"/>
<ellipse cx="1575" cy="2596" rx="12" ry="3.5" fill="#222"/>
<rect x="1572" y="2599" width="6" height="13" fill="#aab0c0" stroke="#1e1e28" stroke-width="1"/>
<polygon points="1383.4,1881.4 1442.7,1936.5 1457.9,2001.3 1459.3,2126.7 1455.1,2164 1405.5,2129.5 1404.1,2016.5 1383.4,1983.4" fill="#a2a5b8" stroke="#1e1e28" stroke-width="1.2" stroke-linejoin="round"/>
<polygon points="1375.2,2106.1 1408.2,2104.7 1416.5,2129.5 1398.6,2129.5" fill="#b0b3c4" stroke="#1e1e28" stroke-width="1" stroke-linejoin="round"/>
<polygon points="1383.4,1881.4 1699.1,1858.7 1757,1913.1 1442.7,1936.5" fill="#c8cbdb" stroke="#1e1e28" stroke-width="1.2" stroke-linejoin="round"/>
<polygon points="1442.7,1936.5 1757,1913.1 1772.2,1980.6 1457.9,2001.3" fill="#b5b8ca" stroke="#1e1e28" stroke-width="1.2" stroke-linejoin="round"/>
<polygon points="1457.9,2001.3 1772.2,1980.6 1773.6,2108.8 1459.3,2126.7" fill="#5b5d6d" stroke="#1e1e28" stroke-width="1.2" stroke-linejoin="round"/>
<polygon points="1588.8,2049.5 1597.1,2041.3 1635.7,2039.9 1638.5,2046.8 1638.5,2115.7 1588.8,2115.7" fill="#3e4050" stroke="#1e1e28" stroke-width="1" stroke-linejoin="round"/>
<polygon points="1591.6,2049.5 1635.7,2049.5 1635.7,2060.6 1591.6,2060.6" fill="#2fb04a"/>
<polygon points="1591.6,2066.1 1635.7,2066.1 1635.7,2079.9 1591.6,2079.9" fill="#2fb04a"/>
<polygon points="1591.6,2089.5 1635.7,2089.5 1635.7,2101.9 1591.6,2101.9" fill="#2fb04a"/>
<polygon points="1591.6,2079.9 1635.7,2079.9 1635.7,2088.1 1591.6,2088.1" fill="#d8d8e0"/>
<circle cx="1475.8" cy="1944.2" r="2.2" fill="#20202a"/>
<circle cx="1478" cy="1955.8" r="2.2" fill="#20202a"/>
<circle cx="1480.2" cy="1967.4" r="2.2" fill="#20202a"/>
<circle cx="1482.4" cy="1979" r="2.2" fill="#20202a"/>
<circle cx="1484.6" cy="1990.5" r="2.2" fill="#20202a"/>
<circle cx="1501.2" cy="1942.6" r="2.2" fill="#20202a"/>
<circle cx="1503.4" cy="1954.1" r="2.2" fill="#20202a"/>
<circle cx="1505.6" cy="1965.7" r="2.2" fill="#20202a"/>
<circle cx="1507.8" cy="1977.3" r="2.2" fill="#20202a"/>
<circle cx="1510" cy="1988.9" r="2.2" fill="#20202a"/>
<circle cx="1526.5" cy="1940.9" r="2.2" fill="#20202a"/>
<circle cx="1528.7" cy="1952.5" r="2.2" fill="#20202a"/>
<circle cx="1530.9" cy="1964.1" r="2.2" fill="#20202a"/>
<circle cx="1533.1" cy="1975.6" r="2.2" fill="#20202a"/>
<circle cx="1535.4" cy="1987.2" r="2.2" fill="#20202a"/>
<circle cx="1551.9" cy="1939.3" r="2.2" fill="#20202a"/>
<circle cx="1554.1" cy="1950.8" r="2.2" fill="#20202a"/>
<circle cx="1556.3" cy="1962.4" r="2.2" fill="#20202a"/>
<circle cx="1558.5" cy="1974" r="2.2" fill="#20202a"/>
<circle cx="1560.7" cy="1985.6" r="2.2" fill="#20202a"/>
<circle cx="1577.3" cy="1937.6" r="2.2" fill="#20202a"/>
<circle cx="1579.5" cy="1949.2" r="2.2" fill="#20202a"/>
<circle cx="1581.7" cy="1960.8" r="2.2" fill="#20202a"/>
<circle cx="1583.9" cy="1972.3" r="2.2" fill="#20202a"/>
<circle cx="1586.1" cy="1983.9" r="2.2" fill="#20202a"/>
<circle cx="1602.6" cy="1935.9" r="2.2" fill="#20202a"/>
<circle cx="1604.8" cy="1947.5" r="2.2" fill="#20202a"/>
<circle cx="1607" cy="1959.1" r="2.2" fill="#20202a"/>
<circle cx="1609.2" cy="1970.7" r="2.2" fill="#20202a"/>
<circle cx="1611.4" cy="1982.3" r="2.2" fill="#20202a"/>
<circle cx="1628" cy="1934.3" r="2.2" fill="#20202a"/>
<circle cx="1630.2" cy="1945.9" r="2.2" fill="#20202a"/>
<circle cx="1632.4" cy="1957.5" r="2.2" fill="#20202a"/>
<circle cx="1634.6" cy="1969" r="2.2" fill="#20202a"/>
<circle cx="1636.8" cy="1980.6" r="2.2" fill="#20202a"/>
<circle cx="1653.4" cy="1932.6" r="2.2" fill="#20202a"/>
<circle cx="1655.6" cy="1944.2" r="2.2" fill="#20202a"/>
<circle cx="1657.8" cy="1955.8" r="2.2" fill="#20202a"/>
<circle cx="1660" cy="1967.4" r="2.2" fill="#20202a"/>
<circle cx="1662.2" cy="1979" r="2.2" fill="#20202a"/>
<circle cx="1678.7" cy="1931" r="2.2" fill="#20202a"/>
<circle cx="1680.9" cy="1942.6" r="2.2" fill="#20202a"/>
<circle cx="1683.1" cy="1954.1" r="2.2" fill="#20202a"/>
<circle cx="1685.3" cy="1965.7" r="2.2" fill="#20202a"/>
<circle cx="1687.5" cy="1977.3" r="2.2" fill="#20202a"/>
<circle cx="1704.1" cy="1929.3" r="2.2" fill="#20202a"/>
<circle cx="1706.3" cy="1940.9" r="2.2" fill="#20202a"/>
<circle cx="1708.5" cy="1952.5" r="2.2" fill="#20202a"/>
<circle cx="1710.7" cy="1964.1" r="2.2" fill="#20202a"/>
<circle cx="1712.9" cy="1975.6" r="2.2" fill="#20202a"/>
<circle cx="1729.5" cy="1927.7" r="2.2" fill="#20202a"/>
<circle cx="1731.7" cy="1939.3" r="2.2" fill="#20202a"/>
<circle cx="1733.9" cy="1950.8" r="2.2" fill="#20202a"/>
<circle cx="1736.1" cy="1962.4" r="2.2" fill="#20202a"/>
<circle cx="1738.3" cy="1974" r="2.2" fill="#20202a"/>
<circle cx="1408.2" cy="1936.5" r="1.4" fill="#20202a"/>
<circle cx="1414.3" cy="1939.3" r="1.4" fill="#20202a"/>
<circle cx="1420.4" cy="1942" r="1.4" fill="#20202a"/>
<circle cx="1426.4" cy="1944.8" r="1.4" fill="#20202a"/>
<circle cx="1432.5" cy="1947.5" r="1.4" fill="#20202a"/>
<circle cx="1438.6" cy="1950.3" r="1.4" fill="#20202a"/>
<circle cx="1409.1" cy="1948.9" r="1.4" fill="#20202a"/>
<circle cx="1415.1" cy="1951.7" r="1.4" fill="#20202a"/>
<circle cx="1421.2" cy="1954.4" r="1.4" fill="#20202a"/>
<circle cx="1427.3" cy="1957.2" r="1.4" fill="#20202a"/>
<circle cx="1433.3" cy="1959.9" r="1.4" fill="#20202a"/>
<circle cx="1439.4" cy="1962.7" r="1.4" fill="#20202a"/>
<circle cx="1409.9" cy="1961.3" r="1.4" fill="#20202a"/>
<circle cx="1416" cy="1964.1" r="1.4" fill="#20202a"/>
<circle cx="1422" cy="1966.8" r="1.4" fill="#20202a"/>
<circle cx="1428.1" cy="1969.6" r="1.4" fill="#20202a"/>
<circle cx="1434.2" cy="1972.3" r="1.4" fill="#20202a"/>
<circle cx="1440.2" cy="1975.1" r="1.4" fill="#20202a"/>
<circle cx="1410.7" cy="1973.7" r="1.4" fill="#20202a"/>
<circle cx="1416.8" cy="1976.5" r="1.4" fill="#20202a"/>
<circle cx="1422.9" cy="1979.2" r="1.4" fill="#20202a"/>
<circle cx="1428.9" cy="1982" r="1.4" fill="#20202a"/>
<circle cx="1435" cy="1984.7" r="1.4" fill="#20202a"/>
<circle cx="1441.1" cy="1987.5" r="1.4" fill="#20202a"/>
<circle cx="1411.6" cy="1986.1" r="1.4" fill="#20202a"/>
<circle cx="1417.6" cy="1988.9" r="1.4" fill="#20202a"/>
<circle cx="1423.7" cy="1991.6" r="1.4" fill="#20202a"/>
<circle cx="1429.8" cy="1994.4" r="1.4" fill="#20202a"/>
<circle cx="1435.8" cy="1997.2" r="1.4" fill="#20202a"/>
<circle cx="1441.9" cy="1999.9" r="1.4" fill="#20202a"/>
<circle cx="1438.6" cy="1888.2" r="2.4" fill="#20202a"/>
<circle cx="1473" cy="1921.3" r="2.4" fill="#20202a"/>
<circle cx="1667.4" cy="1872.5" r="2.4" fill="#20202a"/>
<circle cx="1701.9" cy="1905.6" r="2.4" fill="#20202a"/>
<rect x="1399" y="2491" width="232" height="2" fill="#c8161d"/>
<circle cx="1632" cy="2492" r="7.5" fill="#d0101a"/>
<rect x="1335" y="2603" width="175" height="2" fill="#c8161d"/>
<circle cx="1511" cy="2604" r="7.5" fill="#d0101a"/>
</svg>

<div class="lab" style="left:335px;top:1906px;width:215px;height:46px;line-height:46px;">测试探针卡</div>
<div class="lab" style="left:184px;top:2016px;width:183px;height:46px;line-height:46px;">测试滑台</div>
<div class="lab" style="left:1172px;top:2469px;width:227px;height:47px;line-height:47px;">顶部视觉系统</div>
<div class="lab" style="left:1172px;top:2582px;width:163px;height:46px;line-height:46px;">吸嘴</div>

<div class="cap" style="left:438px;top:2750px;">测试站</div>
<div class="cap" style="left:1463px;top:2750px;">取片头</div>
</body></html>
